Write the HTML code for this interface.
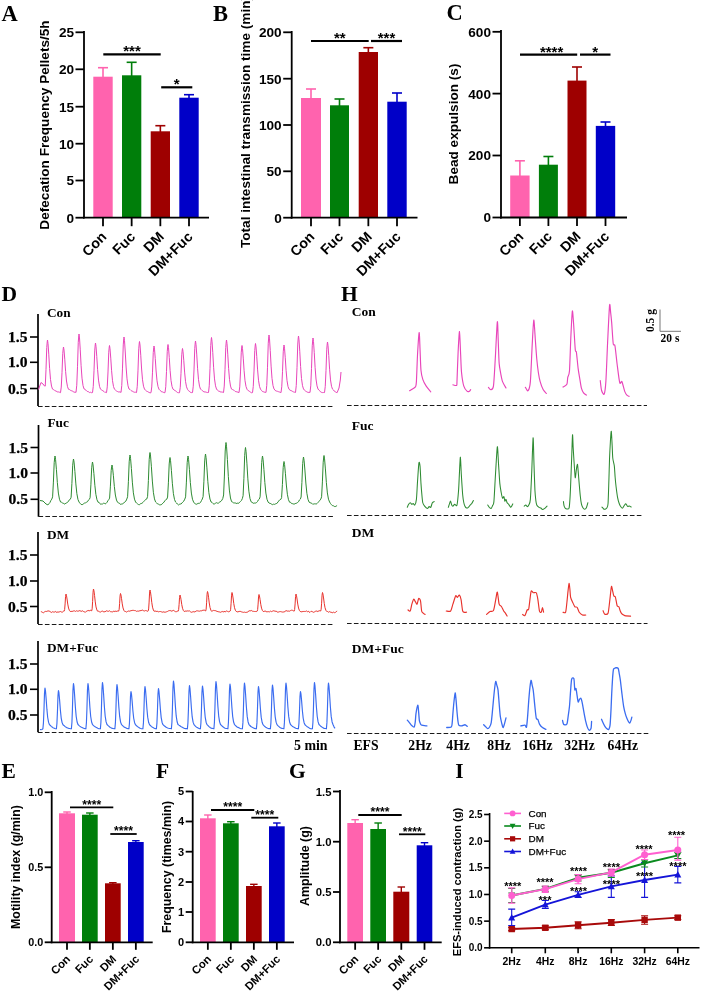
<!DOCTYPE html>
<html><head><meta charset="utf-8"><title>Figure</title>
<style>html,body{margin:0;padding:0;background:#fff}svg{display:block}</style></head>
<body>
<svg width="702" height="991" viewBox="0 0 702 991">
<rect width="702" height="991" fill="#fff"/>
<line x1="103" y1="77.7" x2="103" y2="67.7" stroke="#FF63AE" stroke-width="1.6"/>
<line x1="98" y1="67.7" x2="108" y2="67.7" stroke="#FF63AE" stroke-width="1.6"/>
<rect x="93.3" y="76.7" width="19.4" height="141" fill="#FF63AE"/>
<line x1="131.65" y1="76.3" x2="131.65" y2="62.3" stroke="#007E0A" stroke-width="1.6"/>
<line x1="126.65" y1="62.3" x2="136.65" y2="62.3" stroke="#007E0A" stroke-width="1.6"/>
<rect x="122" y="75.3" width="19.3" height="142.4" fill="#007E0A"/>
<line x1="160.35" y1="132.3" x2="160.35" y2="125.7" stroke="#9E0000" stroke-width="1.6"/>
<line x1="155.35" y1="125.7" x2="165.35" y2="125.7" stroke="#9E0000" stroke-width="1.6"/>
<rect x="150.7" y="131.3" width="19.3" height="86.4" fill="#9E0000"/>
<line x1="189" y1="98.7" x2="189" y2="94.7" stroke="#0000C8" stroke-width="1.6"/>
<line x1="184" y1="94.7" x2="194" y2="94.7" stroke="#0000C8" stroke-width="1.6"/>
<rect x="179.3" y="97.7" width="19.4" height="120" fill="#0000C8"/>
<line x1="84" y1="31" x2="84" y2="218.6" stroke="#000" stroke-width="1.8"/>
<line x1="83.1" y1="217.7" x2="209" y2="217.7" stroke="#000" stroke-width="1.8"/>
<line x1="75.5" y1="32.3" x2="84" y2="32.3" stroke="#000" stroke-width="1.8"/>
<text x="74" y="37.2" font-family='"Liberation Sans", sans-serif' font-weight="bold" font-size="13.6" text-anchor="end">25</text>
<line x1="75.5" y1="69.3" x2="84" y2="69.3" stroke="#000" stroke-width="1.8"/>
<text x="74" y="74.2" font-family='"Liberation Sans", sans-serif' font-weight="bold" font-size="13.6" text-anchor="end">20</text>
<line x1="75.5" y1="106.7" x2="84" y2="106.7" stroke="#000" stroke-width="1.8"/>
<text x="74" y="111.6" font-family='"Liberation Sans", sans-serif' font-weight="bold" font-size="13.6" text-anchor="end">15</text>
<line x1="75.5" y1="143.7" x2="84" y2="143.7" stroke="#000" stroke-width="1.8"/>
<text x="74" y="148.6" font-family='"Liberation Sans", sans-serif' font-weight="bold" font-size="13.6" text-anchor="end">10</text>
<line x1="75.5" y1="180.5" x2="84" y2="180.5" stroke="#000" stroke-width="1.8"/>
<text x="74" y="185.4" font-family='"Liberation Sans", sans-serif' font-weight="bold" font-size="13.6" text-anchor="end">5</text>
<line x1="75.5" y1="217.7" x2="84" y2="217.7" stroke="#000" stroke-width="1.8"/>
<text x="74" y="222.6" font-family='"Liberation Sans", sans-serif' font-weight="bold" font-size="13.6" text-anchor="end">0</text>
<line x1="103" y1="217.7" x2="103" y2="226.2" stroke="#000" stroke-width="1.8"/>
<text transform="translate(107.5,237.7) rotate(-45)" font-family='"Liberation Sans", sans-serif' font-weight="bold" font-size="14.2" text-anchor="end">Con</text>
<line x1="131.65" y1="217.7" x2="131.65" y2="226.2" stroke="#000" stroke-width="1.8"/>
<text transform="translate(136.15,237.7) rotate(-45)" font-family='"Liberation Sans", sans-serif' font-weight="bold" font-size="14.2" text-anchor="end">Fuc</text>
<line x1="160.35" y1="217.7" x2="160.35" y2="226.2" stroke="#000" stroke-width="1.8"/>
<text transform="translate(164.85,237.7) rotate(-45)" font-family='"Liberation Sans", sans-serif' font-weight="bold" font-size="14.2" text-anchor="end">DM</text>
<line x1="189" y1="217.7" x2="189" y2="226.2" stroke="#000" stroke-width="1.8"/>
<text transform="translate(193.5,237.7) rotate(-45)" font-family='"Liberation Sans", sans-serif' font-weight="bold" font-size="14.2" text-anchor="end">DM+Fuc</text>
<line x1="103.3" y1="54.3" x2="160.7" y2="54.3" stroke="#000" stroke-width="2.2"/>
<text x="132" y="56.3" font-family='"Liberation Sans", sans-serif' font-weight="bold" font-size="15" text-anchor="middle">***</text>
<line x1="161.2" y1="87.3" x2="192.3" y2="87.3" stroke="#000" stroke-width="2.2"/>
<text x="176.75" y="89.3" font-family='"Liberation Sans", sans-serif' font-weight="bold" font-size="15" text-anchor="middle">*</text>
<text transform="translate(49.4,125) rotate(-90)" font-family='"Liberation Sans", sans-serif' font-weight="bold" font-size="13.6" text-anchor="middle">Defecation Frequency Pellets/5h</text>
<text x="1.5" y="20.6" font-family='"Liberation Serif", serif' font-weight="bold" font-size="22.5">A</text>
<line x1="311" y1="99" x2="311" y2="89" stroke="#FF63AE" stroke-width="1.6"/>
<line x1="306" y1="89" x2="316" y2="89" stroke="#FF63AE" stroke-width="1.6"/>
<rect x="301" y="98" width="20" height="119.7" fill="#FF63AE"/>
<line x1="339.5" y1="106.3" x2="339.5" y2="99" stroke="#007E0A" stroke-width="1.6"/>
<line x1="334.5" y1="99" x2="344.5" y2="99" stroke="#007E0A" stroke-width="1.6"/>
<rect x="330" y="105.3" width="19" height="112.4" fill="#007E0A"/>
<line x1="368.35" y1="53" x2="368.35" y2="47.7" stroke="#9E0000" stroke-width="1.6"/>
<line x1="363.35" y1="47.7" x2="373.35" y2="47.7" stroke="#9E0000" stroke-width="1.6"/>
<rect x="358.7" y="52" width="19.3" height="165.7" fill="#9E0000"/>
<line x1="397" y1="102.7" x2="397" y2="93" stroke="#0000C8" stroke-width="1.6"/>
<line x1="392" y1="93" x2="402" y2="93" stroke="#0000C8" stroke-width="1.6"/>
<rect x="387.3" y="101.7" width="19.4" height="116" fill="#0000C8"/>
<line x1="291.7" y1="31" x2="291.7" y2="218.6" stroke="#000" stroke-width="1.8"/>
<line x1="290.8" y1="217.7" x2="417.5" y2="217.7" stroke="#000" stroke-width="1.8"/>
<line x1="283.2" y1="32.3" x2="291.7" y2="32.3" stroke="#000" stroke-width="1.8"/>
<text x="281.7" y="37.2" font-family='"Liberation Sans", sans-serif' font-weight="bold" font-size="13.6" text-anchor="end">200</text>
<line x1="283.2" y1="78.7" x2="291.7" y2="78.7" stroke="#000" stroke-width="1.8"/>
<text x="281.7" y="83.6" font-family='"Liberation Sans", sans-serif' font-weight="bold" font-size="13.6" text-anchor="end">150</text>
<line x1="283.2" y1="125" x2="291.7" y2="125" stroke="#000" stroke-width="1.8"/>
<text x="281.7" y="129.9" font-family='"Liberation Sans", sans-serif' font-weight="bold" font-size="13.6" text-anchor="end">100</text>
<line x1="283.2" y1="171.3" x2="291.7" y2="171.3" stroke="#000" stroke-width="1.8"/>
<text x="281.7" y="176.2" font-family='"Liberation Sans", sans-serif' font-weight="bold" font-size="13.6" text-anchor="end">50</text>
<line x1="283.2" y1="217.7" x2="291.7" y2="217.7" stroke="#000" stroke-width="1.8"/>
<text x="281.7" y="222.6" font-family='"Liberation Sans", sans-serif' font-weight="bold" font-size="13.6" text-anchor="end">0</text>
<line x1="311" y1="217.7" x2="311" y2="226.2" stroke="#000" stroke-width="1.8"/>
<text transform="translate(315.5,237.7) rotate(-45)" font-family='"Liberation Sans", sans-serif' font-weight="bold" font-size="14.2" text-anchor="end">Con</text>
<line x1="339.5" y1="217.7" x2="339.5" y2="226.2" stroke="#000" stroke-width="1.8"/>
<text transform="translate(344,237.7) rotate(-45)" font-family='"Liberation Sans", sans-serif' font-weight="bold" font-size="14.2" text-anchor="end">Fuc</text>
<line x1="368.35" y1="217.7" x2="368.35" y2="226.2" stroke="#000" stroke-width="1.8"/>
<text transform="translate(372.85,237.7) rotate(-45)" font-family='"Liberation Sans", sans-serif' font-weight="bold" font-size="14.2" text-anchor="end">DM</text>
<line x1="397" y1="217.7" x2="397" y2="226.2" stroke="#000" stroke-width="1.8"/>
<text transform="translate(401.5,237.7) rotate(-45)" font-family='"Liberation Sans", sans-serif' font-weight="bold" font-size="14.2" text-anchor="end">DM+Fuc</text>
<line x1="311" y1="41" x2="368.7" y2="41" stroke="#000" stroke-width="2.2"/>
<text x="339.85" y="43" font-family='"Liberation Sans", sans-serif' font-weight="bold" font-size="15" text-anchor="middle">**</text>
<line x1="371" y1="41" x2="402" y2="41" stroke="#000" stroke-width="2.2"/>
<text x="386.5" y="43" font-family='"Liberation Sans", sans-serif' font-weight="bold" font-size="15" text-anchor="middle">***</text>
<text transform="translate(250,122) rotate(-90)" font-family='"Liberation Sans", sans-serif' font-weight="bold" font-size="13.6" text-anchor="middle">Total intestinal transmission time (min)</text>
<text x="213" y="20.7" font-family='"Liberation Serif", serif' font-weight="bold" font-size="22.5">B</text>
<line x1="519.9" y1="176.5" x2="519.9" y2="160.8" stroke="#FF63AE" stroke-width="1.6"/>
<line x1="514.9" y1="160.8" x2="524.9" y2="160.8" stroke="#FF63AE" stroke-width="1.6"/>
<rect x="510.2" y="175.5" width="19.4" height="42" fill="#FF63AE"/>
<line x1="548.4" y1="165.7" x2="548.4" y2="156.5" stroke="#007E0A" stroke-width="1.6"/>
<line x1="543.4" y1="156.5" x2="553.4" y2="156.5" stroke="#007E0A" stroke-width="1.6"/>
<rect x="538.9" y="164.7" width="19" height="52.8" fill="#007E0A"/>
<line x1="577" y1="81.6" x2="577" y2="67" stroke="#9E0000" stroke-width="1.6"/>
<line x1="572" y1="67" x2="582" y2="67" stroke="#9E0000" stroke-width="1.6"/>
<rect x="567.5" y="80.6" width="19" height="136.9" fill="#9E0000"/>
<line x1="605.5" y1="126.9" x2="605.5" y2="122" stroke="#0000C8" stroke-width="1.6"/>
<line x1="600.5" y1="122" x2="610.5" y2="122" stroke="#0000C8" stroke-width="1.6"/>
<rect x="595.8" y="125.9" width="19.4" height="91.6" fill="#0000C8"/>
<line x1="501" y1="30" x2="501" y2="218.4" stroke="#000" stroke-width="1.8"/>
<line x1="500.1" y1="217.5" x2="627" y2="217.5" stroke="#000" stroke-width="1.8"/>
<line x1="492.5" y1="31.8" x2="501" y2="31.8" stroke="#000" stroke-width="1.8"/>
<text x="491" y="36.7" font-family='"Liberation Sans", sans-serif' font-weight="bold" font-size="13.6" text-anchor="end">600</text>
<line x1="492.5" y1="93.6" x2="501" y2="93.6" stroke="#000" stroke-width="1.8"/>
<text x="491" y="98.5" font-family='"Liberation Sans", sans-serif' font-weight="bold" font-size="13.6" text-anchor="end">400</text>
<line x1="492.5" y1="155.5" x2="501" y2="155.5" stroke="#000" stroke-width="1.8"/>
<text x="491" y="160.4" font-family='"Liberation Sans", sans-serif' font-weight="bold" font-size="13.6" text-anchor="end">200</text>
<line x1="492.5" y1="217.5" x2="501" y2="217.5" stroke="#000" stroke-width="1.8"/>
<text x="491" y="222.4" font-family='"Liberation Sans", sans-serif' font-weight="bold" font-size="13.6" text-anchor="end">0</text>
<line x1="519.9" y1="217.5" x2="519.9" y2="226" stroke="#000" stroke-width="1.8"/>
<text transform="translate(524.4,237.5) rotate(-45)" font-family='"Liberation Sans", sans-serif' font-weight="bold" font-size="14.2" text-anchor="end">Con</text>
<line x1="548.4" y1="217.5" x2="548.4" y2="226" stroke="#000" stroke-width="1.8"/>
<text transform="translate(552.9,237.5) rotate(-45)" font-family='"Liberation Sans", sans-serif' font-weight="bold" font-size="14.2" text-anchor="end">Fuc</text>
<line x1="577" y1="217.5" x2="577" y2="226" stroke="#000" stroke-width="1.8"/>
<text transform="translate(581.5,237.5) rotate(-45)" font-family='"Liberation Sans", sans-serif' font-weight="bold" font-size="14.2" text-anchor="end">DM</text>
<line x1="605.5" y1="217.5" x2="605.5" y2="226" stroke="#000" stroke-width="1.8"/>
<text transform="translate(610,237.5) rotate(-45)" font-family='"Liberation Sans", sans-serif' font-weight="bold" font-size="14.2" text-anchor="end">DM+Fuc</text>
<line x1="520" y1="54.6" x2="577.2" y2="54.6" stroke="#000" stroke-width="2.2"/>
<text x="551.6" y="56.6" font-family='"Liberation Sans", sans-serif' font-weight="bold" font-size="15" text-anchor="middle">****</text>
<line x1="580" y1="54.6" x2="610.5" y2="54.6" stroke="#000" stroke-width="2.2"/>
<text x="595.25" y="56.6" font-family='"Liberation Sans", sans-serif' font-weight="bold" font-size="15" text-anchor="middle">*</text>
<text transform="translate(458,124) rotate(-90)" font-family='"Liberation Sans", sans-serif' font-weight="bold" font-size="13.6" text-anchor="middle">Bead expulsion (s)</text>
<text x="446.5" y="20.4" font-family='"Liberation Serif", serif' font-weight="bold" font-size="22.5">C</text>
<line x1="67" y1="814.3" x2="67" y2="812" stroke="#FF63AE" stroke-width="1.4"/>
<line x1="63.25" y1="812" x2="70.75" y2="812" stroke="#FF63AE" stroke-width="1.4"/>
<rect x="59" y="813.3" width="16" height="129" fill="#FF63AE"/>
<line x1="89.85" y1="815.7" x2="89.85" y2="813" stroke="#007E0A" stroke-width="1.4"/>
<line x1="86.1" y1="813" x2="93.6" y2="813" stroke="#007E0A" stroke-width="1.4"/>
<rect x="82" y="814.7" width="15.7" height="127.6" fill="#007E0A"/>
<line x1="112.85" y1="884.3" x2="112.85" y2="882.7" stroke="#9E0000" stroke-width="1.4"/>
<line x1="109.1" y1="882.7" x2="116.6" y2="882.7" stroke="#9E0000" stroke-width="1.4"/>
<rect x="105" y="883.3" width="15.7" height="59" fill="#9E0000"/>
<line x1="135.85" y1="843" x2="135.85" y2="840.7" stroke="#0000C8" stroke-width="1.4"/>
<line x1="132.1" y1="840.7" x2="139.6" y2="840.7" stroke="#0000C8" stroke-width="1.4"/>
<rect x="128" y="842" width="15.7" height="100.3" fill="#0000C8"/>
<line x1="51.7" y1="791" x2="51.7" y2="943.2" stroke="#000" stroke-width="1.8"/>
<line x1="50.8" y1="942.3" x2="152.7" y2="942.3" stroke="#000" stroke-width="1.8"/>
<line x1="44.7" y1="792.3" x2="51.7" y2="792.3" stroke="#000" stroke-width="1.8"/>
<text x="43.2" y="796.19" font-family='"Liberation Sans", sans-serif' font-weight="bold" font-size="10.8" text-anchor="end">1.0</text>
<line x1="44.7" y1="867.3" x2="51.7" y2="867.3" stroke="#000" stroke-width="1.8"/>
<text x="43.2" y="871.19" font-family='"Liberation Sans", sans-serif' font-weight="bold" font-size="10.8" text-anchor="end">0.5</text>
<line x1="44.7" y1="942.3" x2="51.7" y2="942.3" stroke="#000" stroke-width="1.8"/>
<text x="43.2" y="946.19" font-family='"Liberation Sans", sans-serif' font-weight="bold" font-size="10.8" text-anchor="end">0.0</text>
<line x1="67" y1="942.3" x2="67" y2="949.8" stroke="#000" stroke-width="1.8"/>
<text transform="translate(71,959.8) rotate(-45)" font-family='"Liberation Sans", sans-serif' font-weight="bold" font-size="11.3" text-anchor="end">Con</text>
<line x1="89.85" y1="942.3" x2="89.85" y2="949.8" stroke="#000" stroke-width="1.8"/>
<text transform="translate(93.85,959.8) rotate(-45)" font-family='"Liberation Sans", sans-serif' font-weight="bold" font-size="11.3" text-anchor="end">Fuc</text>
<line x1="112.85" y1="942.3" x2="112.85" y2="949.8" stroke="#000" stroke-width="1.8"/>
<text transform="translate(116.85,959.8) rotate(-45)" font-family='"Liberation Sans", sans-serif' font-weight="bold" font-size="11.3" text-anchor="end">DM</text>
<line x1="135.85" y1="942.3" x2="135.85" y2="949.8" stroke="#000" stroke-width="1.8"/>
<text transform="translate(139.85,959.8) rotate(-45)" font-family='"Liberation Sans", sans-serif' font-weight="bold" font-size="11.3" text-anchor="end">DM+Fuc</text>
<line x1="70" y1="807.3" x2="113.3" y2="807.3" stroke="#000" stroke-width="1.8"/>
<text x="91.65" y="808.6" font-family='"Liberation Sans", sans-serif' font-weight="bold" font-size="12.2" text-anchor="middle">****</text>
<line x1="110.3" y1="834" x2="136.7" y2="834" stroke="#000" stroke-width="1.8"/>
<text x="123.5" y="835.3" font-family='"Liberation Sans", sans-serif' font-weight="bold" font-size="12.2" text-anchor="middle">****</text>
<text transform="translate(20,867) rotate(-90)" font-family='"Liberation Sans", sans-serif' font-weight="bold" font-size="12.4" text-anchor="middle">Motility index (g/min)</text>
<text x="1.5" y="778" font-family='"Liberation Serif", serif' font-weight="bold" font-size="21.5">E</text>
<line x1="207.85" y1="819.3" x2="207.85" y2="815" stroke="#FF63AE" stroke-width="1.4"/>
<line x1="204.1" y1="815" x2="211.6" y2="815" stroke="#FF63AE" stroke-width="1.4"/>
<rect x="200" y="818.3" width="15.7" height="124" fill="#FF63AE"/>
<line x1="230.85" y1="824.3" x2="230.85" y2="821.7" stroke="#007E0A" stroke-width="1.4"/>
<line x1="227.1" y1="821.7" x2="234.6" y2="821.7" stroke="#007E0A" stroke-width="1.4"/>
<rect x="223" y="823.3" width="15.7" height="119" fill="#007E0A"/>
<line x1="253.85" y1="887" x2="253.85" y2="884.3" stroke="#9E0000" stroke-width="1.4"/>
<line x1="250.1" y1="884.3" x2="257.6" y2="884.3" stroke="#9E0000" stroke-width="1.4"/>
<rect x="246" y="886" width="15.7" height="56.3" fill="#9E0000"/>
<line x1="276.85" y1="827.3" x2="276.85" y2="823" stroke="#0000C8" stroke-width="1.4"/>
<line x1="273.1" y1="823" x2="280.6" y2="823" stroke="#0000C8" stroke-width="1.4"/>
<rect x="269" y="826.3" width="15.7" height="116" fill="#0000C8"/>
<line x1="192.7" y1="791" x2="192.7" y2="943.2" stroke="#000" stroke-width="1.8"/>
<line x1="191.8" y1="942.3" x2="294" y2="942.3" stroke="#000" stroke-width="1.8"/>
<line x1="185.7" y1="791.5" x2="192.7" y2="791.5" stroke="#000" stroke-width="1.8"/>
<text x="184.2" y="795.46" font-family='"Liberation Sans", sans-serif' font-weight="bold" font-size="11" text-anchor="end">5</text>
<line x1="185.7" y1="821.5" x2="192.7" y2="821.5" stroke="#000" stroke-width="1.8"/>
<text x="184.2" y="825.46" font-family='"Liberation Sans", sans-serif' font-weight="bold" font-size="11" text-anchor="end">4</text>
<line x1="185.7" y1="851.7" x2="192.7" y2="851.7" stroke="#000" stroke-width="1.8"/>
<text x="184.2" y="855.66" font-family='"Liberation Sans", sans-serif' font-weight="bold" font-size="11" text-anchor="end">3</text>
<line x1="185.7" y1="882" x2="192.7" y2="882" stroke="#000" stroke-width="1.8"/>
<text x="184.2" y="885.96" font-family='"Liberation Sans", sans-serif' font-weight="bold" font-size="11" text-anchor="end">2</text>
<line x1="185.7" y1="912" x2="192.7" y2="912" stroke="#000" stroke-width="1.8"/>
<text x="184.2" y="915.96" font-family='"Liberation Sans", sans-serif' font-weight="bold" font-size="11" text-anchor="end">1</text>
<line x1="185.7" y1="942.3" x2="192.7" y2="942.3" stroke="#000" stroke-width="1.8"/>
<text x="184.2" y="946.26" font-family='"Liberation Sans", sans-serif' font-weight="bold" font-size="11" text-anchor="end">0</text>
<line x1="207.85" y1="942.3" x2="207.85" y2="949.8" stroke="#000" stroke-width="1.8"/>
<text transform="translate(211.85,959.8) rotate(-45)" font-family='"Liberation Sans", sans-serif' font-weight="bold" font-size="11.3" text-anchor="end">Con</text>
<line x1="230.85" y1="942.3" x2="230.85" y2="949.8" stroke="#000" stroke-width="1.8"/>
<text transform="translate(234.85,959.8) rotate(-45)" font-family='"Liberation Sans", sans-serif' font-weight="bold" font-size="11.3" text-anchor="end">Fuc</text>
<line x1="253.85" y1="942.3" x2="253.85" y2="949.8" stroke="#000" stroke-width="1.8"/>
<text transform="translate(257.85,959.8) rotate(-45)" font-family='"Liberation Sans", sans-serif' font-weight="bold" font-size="11.3" text-anchor="end">DM</text>
<line x1="276.85" y1="942.3" x2="276.85" y2="949.8" stroke="#000" stroke-width="1.8"/>
<text transform="translate(280.85,959.8) rotate(-45)" font-family='"Liberation Sans", sans-serif' font-weight="bold" font-size="11.3" text-anchor="end">DM+Fuc</text>
<line x1="211" y1="810" x2="254.3" y2="810" stroke="#000" stroke-width="1.8"/>
<text x="232.65" y="811.3" font-family='"Liberation Sans", sans-serif' font-weight="bold" font-size="12.2" text-anchor="middle">****</text>
<line x1="251.3" y1="817.7" x2="278.3" y2="817.7" stroke="#000" stroke-width="1.8"/>
<text x="264.8" y="819" font-family='"Liberation Sans", sans-serif' font-weight="bold" font-size="12.2" text-anchor="middle">****</text>
<text transform="translate(171,867) rotate(-90)" font-family='"Liberation Sans", sans-serif' font-weight="bold" font-size="12.4" text-anchor="middle">Frequency (times/min)</text>
<text x="156" y="778" font-family='"Liberation Serif", serif' font-weight="bold" font-size="21.5">F</text>
<line x1="355.15" y1="824" x2="355.15" y2="819.7" stroke="#FF63AE" stroke-width="1.4"/>
<line x1="351.4" y1="819.7" x2="358.9" y2="819.7" stroke="#FF63AE" stroke-width="1.4"/>
<rect x="347.3" y="823" width="15.7" height="119.3" fill="#FF63AE"/>
<line x1="378.15" y1="830" x2="378.15" y2="823" stroke="#007E0A" stroke-width="1.4"/>
<line x1="374.4" y1="823" x2="381.9" y2="823" stroke="#007E0A" stroke-width="1.4"/>
<rect x="370.3" y="829" width="15.7" height="113.3" fill="#007E0A"/>
<line x1="401.3" y1="892.7" x2="401.3" y2="887" stroke="#9E0000" stroke-width="1.4"/>
<line x1="397.55" y1="887" x2="405.05" y2="887" stroke="#9E0000" stroke-width="1.4"/>
<rect x="393.3" y="891.7" width="16" height="50.6" fill="#9E0000"/>
<line x1="424.5" y1="846.3" x2="424.5" y2="842.7" stroke="#0000C8" stroke-width="1.4"/>
<line x1="420.75" y1="842.7" x2="428.25" y2="842.7" stroke="#0000C8" stroke-width="1.4"/>
<rect x="416.7" y="845.3" width="15.6" height="97" fill="#0000C8"/>
<line x1="340" y1="790" x2="340" y2="943.2" stroke="#000" stroke-width="1.8"/>
<line x1="339.1" y1="942.3" x2="441.7" y2="942.3" stroke="#000" stroke-width="1.8"/>
<line x1="333" y1="791.5" x2="340" y2="791.5" stroke="#000" stroke-width="1.8"/>
<text x="331.5" y="795.57" font-family='"Liberation Sans", sans-serif' font-weight="bold" font-size="11.3" text-anchor="end">1.5</text>
<line x1="333" y1="841.7" x2="340" y2="841.7" stroke="#000" stroke-width="1.8"/>
<text x="331.5" y="845.77" font-family='"Liberation Sans", sans-serif' font-weight="bold" font-size="11.3" text-anchor="end">1.0</text>
<line x1="333" y1="892" x2="340" y2="892" stroke="#000" stroke-width="1.8"/>
<text x="331.5" y="896.07" font-family='"Liberation Sans", sans-serif' font-weight="bold" font-size="11.3" text-anchor="end">0.5</text>
<line x1="333" y1="942.3" x2="340" y2="942.3" stroke="#000" stroke-width="1.8"/>
<text x="331.5" y="946.37" font-family='"Liberation Sans", sans-serif' font-weight="bold" font-size="11.3" text-anchor="end">0.0</text>
<line x1="355.15" y1="942.3" x2="355.15" y2="949.8" stroke="#000" stroke-width="1.8"/>
<text transform="translate(359.15,959.8) rotate(-45)" font-family='"Liberation Sans", sans-serif' font-weight="bold" font-size="11.3" text-anchor="end">Con</text>
<line x1="378.15" y1="942.3" x2="378.15" y2="949.8" stroke="#000" stroke-width="1.8"/>
<text transform="translate(382.15,959.8) rotate(-45)" font-family='"Liberation Sans", sans-serif' font-weight="bold" font-size="11.3" text-anchor="end">Fuc</text>
<line x1="401.3" y1="942.3" x2="401.3" y2="949.8" stroke="#000" stroke-width="1.8"/>
<text transform="translate(405.3,959.8) rotate(-45)" font-family='"Liberation Sans", sans-serif' font-weight="bold" font-size="11.3" text-anchor="end">DM</text>
<line x1="424.5" y1="942.3" x2="424.5" y2="949.8" stroke="#000" stroke-width="1.8"/>
<text transform="translate(428.5,959.8) rotate(-45)" font-family='"Liberation Sans", sans-serif' font-weight="bold" font-size="11.3" text-anchor="end">DM+Fuc</text>
<line x1="358.3" y1="815" x2="401.7" y2="815" stroke="#000" stroke-width="1.8"/>
<text x="380" y="816.4" font-family='"Liberation Sans", sans-serif' font-weight="bold" font-size="12.2" text-anchor="middle">****</text>
<line x1="399" y1="834.3" x2="425.3" y2="834.3" stroke="#000" stroke-width="1.8"/>
<text x="412.15" y="835.7" font-family='"Liberation Sans", sans-serif' font-weight="bold" font-size="12.2" text-anchor="middle">****</text>
<text transform="translate(309,866) rotate(-90)" font-family='"Liberation Sans", sans-serif' font-weight="bold" font-size="12.4" text-anchor="middle">Amplitude (g)</text>
<text x="289" y="778" font-family='"Liberation Serif", serif' font-weight="bold" font-size="21.5">G</text>
<line x1="38" y1="314" x2="38" y2="406" stroke="#000" stroke-width="1.7"/>
<line x1="30" y1="337" x2="38" y2="337" stroke="#000" stroke-width="1.6"/>
<text x="27.5" y="342" font-family='"Liberation Serif", serif' font-weight="bold" font-size="15.6" stroke="#000" stroke-width="0.25" text-anchor="end">1.5</text>
<line x1="30" y1="362.3" x2="38" y2="362.3" stroke="#000" stroke-width="1.6"/>
<text x="27.5" y="367.3" font-family='"Liberation Serif", serif' font-weight="bold" font-size="15.6" stroke="#000" stroke-width="0.25" text-anchor="end">1.0</text>
<line x1="30" y1="388.5" x2="38" y2="388.5" stroke="#000" stroke-width="1.6"/>
<text x="27.5" y="393.5" font-family='"Liberation Serif", serif' font-weight="bold" font-size="15.6" stroke="#000" stroke-width="0.25" text-anchor="end">0.5</text>
<line x1="38" y1="406.5" x2="334.5" y2="406.5" stroke="#1a1a1a" stroke-width="1.2" stroke-dasharray="4.6,2.3"/>
<text x="47" y="317.3" font-family='"Liberation Serif", serif' font-weight="bold" font-size="13.3">Con</text>
<path d="M38.5,389.5 L41,382.5 L43,384 L44.5,386 L44.5,386 L45.25,386.1 L46,369.48 L46.75,347.5 L47.26,341.61 L47.5,340 L48,343.54 L48.75,354.17 L49.6,368.34 L50.5,379.47 L51.5,386.05 L52.5,389.08 L53.39,389.55 L54.28,389.94 L55.17,390.84 L56.06,391.06 L56.94,391.65 L57.83,392.03 L58.72,391.94 L59.61,392.26 L60.5,392.67 L61.25,387.08 L62,372.63 L62.75,353.52 L63.26,348.4 L63.5,347 L64,350.05 L64.75,359.21 L65.6,371.42 L66.5,381.01 L67.5,386.68 L68.5,389.29 L69.44,389.54 L70.38,390.28 L71.31,390.68 L72.25,390.99 L73.19,391.58 L74.12,392.29 L75.06,392.03 L76,392.41 L76.75,385.26 L77.5,366.78 L78.25,342.34 L78.76,335.79 L79,334 L79.5,337.96 L80.25,349.85 L81.1,365.7 L82,378.15 L83,385.51 L84,388.9 L84.94,389.3 L85.89,390.13 L86.83,391.15 L87.78,391.62 L88.72,391.83 L89.67,392.61 L90.61,392.25 L91.56,392.71 L92.5,392.59 L93.25,386.52 L94,370.83 L94.75,350.08 L95.26,344.52 L95.5,343 L96,346.33 L96.75,356.33 L97.6,369.66 L98.5,380.13 L99.5,386.32 L100.5,389.17 L101.36,389.78 L102.21,390.33 L103.07,390.89 L103.93,391.45 L104.79,392.38 L105.64,392.24 L106.5,392.64 L107.25,386.87 L108,371.96 L108.75,352.23 L109.26,346.94 L109.5,345.5 L110,348.66 L110.75,358.13 L111.6,370.76 L112.5,380.68 L113.5,386.54 L114.5,389.25 L115.43,390.06 L116.36,390.9 L117.29,391.41 L118.21,391.92 L119.14,391.96 L120.07,391.81 L121,392.47 L121.75,385.68 L122.5,368.13 L123.25,344.92 L123.76,338.7 L124,337 L124.5,340.75 L125.25,352.01 L126.1,367.02 L127,378.81 L128,385.78 L129,388.99 L129.94,389.44 L130.88,390.39 L131.81,391.02 L132.75,391.38 L133.69,391.98 L134.62,392.27 L135.56,392.24 L136.5,392.56 L137.25,386.31 L138,370.16 L138.75,348.79 L139.26,343.06 L139.5,341.5 L140,344.94 L140.75,355.25 L141.6,369 L142.5,379.8 L143.5,386.18 L144.5,389.13 L145.43,390.16 L146.36,391.02 L147.29,391.41 L148.21,391.99 L149.14,392.45 L150.07,392.87 L151,392.65 L151.75,386.94 L152.5,372.18 L153.25,352.66 L153.76,347.43 L154,346 L154.5,349.12 L155.25,358.49 L156.1,370.98 L157,380.79 L158,386.59 L159,389.26 L159.86,390.22 L160.71,390.73 L161.57,391.87 L162.43,391.88 L163.29,392.29 L164.14,392.66 L165,392.62 L165.75,386.73 L166.5,371.5 L167.25,351.37 L167.76,345.97 L168,344.5 L168.5,347.73 L169.25,357.41 L170.1,370.32 L171,380.46 L172,386.45 L173,389.22 L173.93,389.71 L174.86,390.6 L175.79,391.01 L176.71,391.85 L177.64,392.59 L178.57,392.72 L179.5,392.7 L180.25,387.29 L181,373.31 L181.75,354.81 L182.26,349.85 L182.5,348.5 L183,351.45 L183.75,360.29 L184.6,372.08 L185.5,381.34 L186.5,386.81 L187.5,389.34 L188.33,390.52 L189.17,391.11 L190,391.93 L190.83,392.47 L191.67,392.64 L192.5,392.55 L193.25,386.24 L194,369.93 L194.75,348.36 L195.26,342.58 L195.5,341 L196,344.47 L196.75,354.89 L197.6,368.78 L198.5,379.69 L199.5,386.14 L200.5,389.11 L201.39,389.67 L202.28,390.57 L203.17,391.43 L204.06,391.71 L204.94,392.1 L205.83,391.98 L206.72,392.38 L207.61,392.56 L208.5,392.48 L209.25,385.75 L210,368.36 L210.75,345.35 L211.26,339.18 L211.5,337.5 L212,341.22 L212.75,352.37 L213.6,367.24 L214.5,378.92 L215.5,385.82 L216.5,389.01 L217.38,390.11 L218.25,390.91 L219.12,391.21 L220,391.55 L220.88,392.14 L221.75,391.99 L222.62,392.2 L223.5,392.53 L224.25,386.1 L225,369.48 L225.75,347.5 L226.26,341.61 L226.5,340 L227,343.54 L227.75,354.17 L228.6,368.34 L229.5,379.47 L230.5,386.05 L231.5,389.08 L232.44,389.5 L233.38,389.98 L234.31,390.5 L235.25,391.49 L236.19,391.69 L237.12,391.95 L238.06,392.16 L239,392.64 L239.75,386.87 L240.5,371.96 L241.25,352.23 L241.76,346.94 L242,345.5 L242.5,348.66 L243.25,358.13 L244.1,370.76 L245,380.68 L246,386.54 L247,389.25 L247.92,390.45 L248.83,390.87 L249.75,391.58 L250.67,392.24 L251.58,392.78 L252.5,392.6 L253.25,386.59 L254,371.06 L254.75,350.51 L255.26,345 L255.5,343.5 L256,346.8 L256.75,356.69 L257.6,369.88 L258.5,380.24 L259.5,386.36 L260.5,389.19 L261.42,390.33 L262.33,391.4 L263.25,391.7 L264.17,392.13 L265.08,392.2 L266,392.43 L266.75,385.4 L267.5,367.23 L268.25,343.2 L268.76,336.76 L269,335 L269.5,338.89 L270.25,350.57 L271.1,366.14 L272,378.37 L273,385.6 L274,388.93 L274.88,389.97 L275.75,390.93 L276.62,391.12 L277.5,391.34 L278.38,391.67 L279.25,391.93 L280.12,392.22 L281,392.63 L281.75,386.8 L282.5,371.73 L283.25,351.8 L283.76,346.46 L284,345 L284.5,348.19 L285.25,357.77 L286.1,370.54 L287,380.57 L288,386.5 L289,389.23 L289.93,390.05 L290.86,390.57 L291.79,390.9 L292.71,391.5 L293.64,391.96 L294.57,392.22 L295.5,392.45 L296.25,385.54 L297,367.68 L297.75,344.06 L298.26,337.73 L298.5,336 L299,339.82 L299.75,351.29 L300.6,366.58 L301.5,378.59 L302.5,385.69 L303.5,388.96 L304.43,390.13 L305.36,390.93 L306.29,391.52 L307.21,392.02 L308.14,392.54 L309.07,392.17 L310,392.49 L310.75,385.82 L311.5,368.58 L312.25,345.78 L312.76,339.67 L313,338 L313.5,341.68 L314.25,352.73 L315.1,367.46 L316,379.03 L317,385.87 L318,389.02 L318.93,390.15 L319.86,391.04 L320.79,391.92 L321.71,392.44 L322.64,392.58 L323.57,392.52 L324.5,392.57 L325.25,386.38 L326,370.38 L326.75,349.22 L327.26,343.55 L327.5,342 L328,345.4 L328.75,355.61 L329.6,369.22 L330.5,379.91 L331.5,386.23 L332.5,389.14 L333.42,389.89 L334.33,391.21 L335.25,391.75 L336.17,392.3 L337.08,392.69 L339,388 L340.3,380 L341,372" fill="none" stroke="#E845BA" stroke-width="1.0" stroke-linejoin="round"/>
<line x1="38.5" y1="425" x2="38.5" y2="516.7" stroke="#000" stroke-width="1.7"/>
<line x1="30.5" y1="447.5" x2="38.5" y2="447.5" stroke="#000" stroke-width="1.6"/>
<text x="28" y="452.5" font-family='"Liberation Serif", serif' font-weight="bold" font-size="15.6" stroke="#000" stroke-width="0.25" text-anchor="end">1.5</text>
<line x1="30.5" y1="473" x2="38.5" y2="473" stroke="#000" stroke-width="1.6"/>
<text x="28" y="478" font-family='"Liberation Serif", serif' font-weight="bold" font-size="15.6" stroke="#000" stroke-width="0.25" text-anchor="end">1.0</text>
<line x1="30.5" y1="499.3" x2="38.5" y2="499.3" stroke="#000" stroke-width="1.6"/>
<text x="28" y="504.3" font-family='"Liberation Serif", serif' font-weight="bold" font-size="15.6" stroke="#000" stroke-width="0.25" text-anchor="end">0.5</text>
<line x1="38.5" y1="516.5" x2="334.5" y2="516.5" stroke="#1a1a1a" stroke-width="1.2" stroke-dasharray="4.6,2.3"/>
<text x="47.5" y="427" font-family='"Liberation Serif", serif' font-weight="bold" font-size="13.3">Fuc</text>
<path d="M40,500.5 L43,501 L46,504 L46.97,504.45 L47.93,504.94 L48.9,503.76 L49.87,502.67 L50.83,500.54 L51.8,499.12 L52.6,496.85 L53.4,482.12 L54.2,462.65 L54.74,457.43 L55,456 L55.56,459.32 L56.4,469.3 L57.35,482.6 L58.36,493.05 L59.48,499.23 L60.6,502.07 L61.48,502.25 L62.36,502.93 L63.25,503.2 L64.13,504 L65.01,503.91 L65.89,503.19 L66.77,502.78 L67.65,502.28 L68.54,501.14 L69.42,499.71 L70.3,499.27 L71.1,497.27 L71.9,483.48 L72.7,465.23 L73.24,460.33 L73.5,459 L74.06,462.12 L74.9,471.46 L75.85,483.92 L76.86,493.71 L77.98,499.5 L79.1,502.17 L80.03,503.24 L80.95,504.33 L81.88,504.61 L82.81,504.43 L83.74,503.58 L84.66,502.99 L85.59,502.82 L86.52,502.26 L87.45,501.75 L88.37,500.18 L89.3,499.43 L90.1,497.69 L90.9,484.82 L91.7,467.81 L92.24,463.25 L92.5,462 L93.06,464.9 L93.9,473.62 L94.85,485.24 L95.86,494.37 L96.98,499.76 L98.1,502.25 L98.99,502.29 L99.88,503.67 L100.77,504.24 L101.67,504.03 L102.56,503.99 L103.45,503.26 L104.34,503.33 L105.23,503.83 L106.12,503.4 L107.02,502.31 L107.91,500.72 L108.8,499.57 L109.6,498.11 L110.4,486.18 L111.2,470.39 L111.74,466.15 L112,465 L112.56,467.69 L113.4,475.78 L114.35,486.56 L115.36,495.03 L116.48,500.04 L117.6,502.35 L118.52,502.86 L119.44,503.2 L120.36,504.39 L121.28,504.09 L122.2,504.08 L123.12,503.4 L124.04,502.73 L124.96,501.91 L125.88,501.09 L126.8,499.07 L127.6,496.71 L128.4,481.68 L129.2,461.79 L129.74,456.45 L130,455 L130.56,458.39 L131.4,468.58 L132.35,482.16 L133.36,492.83 L134.48,499.13 L135.6,502.05 L136.53,503.04 L137.47,503.82 L138.4,504.53 L139.33,504.75 L140.27,503.87 L141.2,503.59 L142.13,503.12 L143.07,502.35 L144,501.28 L144.93,500.3 L145.87,499.25 L146.8,498.95 L147.6,496.36 L148.4,480.55 L149.2,459.64 L149.74,454.03 L150,452.5 L150.56,456.07 L151.4,466.78 L152.35,481.06 L153.36,492.28 L154.48,498.91 L155.6,501.97 L156.53,502.8 L157.47,503.86 L158.4,504.13 L159.33,504.78 L160.27,504.84 L161.2,504.75 L162.13,503.89 L163.07,503.11 L164,502.06 L164.93,500.76 L165.87,499.57 L166.8,499.2 L167.6,497.06 L168.4,482.8 L169.2,463.94 L169.74,458.88 L170,457.5 L170.56,460.72 L171.4,470.38 L172.35,483.26 L173.36,493.38 L174.48,499.36 L175.6,502.12 L176.52,502.97 L177.44,504.09 L178.36,504.97 L179.28,504.35 L180.2,504.06 L181.12,503.95 L182.04,502.9 L182.96,501.84 L183.88,500.99 L184.8,499.12 L185.6,496.85 L186.4,482.12 L187.2,462.65 L187.74,457.43 L188,456 L188.56,459.32 L189.4,469.3 L190.35,482.6 L191.36,493.05 L192.48,499.23 L193.6,502.07 L194.47,503.11 L195.34,503.97 L196.21,504.44 L197.08,503.63 L197.95,503.76 L198.82,503.17 L199.69,503.26 L200.56,502.39 L201.43,500.66 L202.3,499.02 L203.1,496.57 L203.9,481.23 L204.7,460.93 L205.24,455.49 L205.5,454 L206.06,457.46 L206.9,467.86 L207.85,481.72 L208.86,492.61 L209.98,499.05 L211.1,502.01 L212,502.39 L212.9,503.47 L213.8,504.05 L214.7,503.85 L215.6,503.16 L216.5,502.66 L217.4,503.15 L218.3,503.22 L219.2,502.36 L220.1,501.86 L221,501.28 L221.9,500.13 L222.8,498.45 L223.6,494.96 L224.4,476.05 L225.2,451.04 L225.74,444.33 L226,442.5 L226.56,446.77 L227.4,459.58 L228.35,476.66 L229.36,490.08 L230.48,498.01 L231.6,501.67 L232.49,502.08 L233.38,502.79 L234.28,502.96 L235.17,502.81 L236.06,503.48 L236.95,503.39 L237.84,503.09 L238.73,503.3 L239.62,502.23 L240.52,501.48 L241.41,500.54 L242.3,498.7 L243.1,495.66 L243.9,478.3 L244.7,455.34 L245.24,449.18 L245.5,447.5 L246.06,451.42 L246.9,463.18 L247.85,478.86 L248.86,491.18 L249.98,498.46 L251.1,501.82 L252.01,502.28 L252.92,502.94 L253.83,503.37 L254.74,502.98 L255.66,503.04 L256.57,502.57 L257.48,501.57 L258.39,499.87 L259.3,499.12 L260.1,496.85 L260.9,482.12 L261.7,462.65 L262.24,457.43 L262.5,456 L263.06,459.32 L263.9,469.3 L264.85,482.6 L265.86,493.05 L266.98,499.23 L268.1,502.07 L269.01,503.09 L269.91,503.24 L270.82,503.67 L271.73,504.28 L272.64,504.67 L273.54,504.17 L274.45,504.38 L275.36,503.93 L276.26,503.63 L277.17,503.21 L278.08,501.65 L278.99,500.86 L279.89,499.72 L280.8,499.4 L281.6,497.62 L282.4,484.6 L283.2,467.38 L283.74,462.76 L284,461.5 L284.56,464.44 L285.4,473.26 L286.35,485.02 L287.36,494.26 L288.48,499.72 L289.6,502.24 L290.49,502.22 L291.38,503.4 L292.28,503.58 L293.17,503.95 L294.06,504.07 L294.95,503.84 L295.84,503.32 L296.73,503.14 L297.62,502.47 L298.52,501.71 L299.41,500.01 L300.3,499.18 L301.1,496.99 L301.9,482.57 L302.7,463.51 L303.24,458.39 L303.5,457 L304.06,460.25 L304.9,470.02 L305.85,483.04 L306.86,493.27 L307.98,499.31 L309.1,502.11 L310,502.72 L310.9,502.92 L311.8,503.3 L312.7,504.25 L313.6,504 L314.5,503.82 L315.4,503.86 L316.3,503.98 L317.2,503.39 L318.1,502.45 L319,501.32 L319.9,500.25 L320.8,499.1 L321.6,496.78 L322.4,481.9 L323.2,462.22 L323.74,456.94 L324,455.5 L324.56,458.86 L325.4,468.94 L326.35,482.38 L327.36,492.94 L328.48,499.18 L329.6,502.06 L330.53,503.56 L331.47,504.68 L332.4,505.63 L333.33,505.73 L334.27,506.41 L335.2,506.59 L336.13,506.19 L337.07,505.46" fill="none" stroke="#2E8B32" stroke-width="1.0" stroke-linejoin="round"/>
<line x1="38" y1="532" x2="38" y2="624" stroke="#000" stroke-width="1.7"/>
<line x1="30" y1="555" x2="38" y2="555" stroke="#000" stroke-width="1.6"/>
<text x="27.5" y="560" font-family='"Liberation Serif", serif' font-weight="bold" font-size="15.6" stroke="#000" stroke-width="0.25" text-anchor="end">1.5</text>
<line x1="30" y1="581" x2="38" y2="581" stroke="#000" stroke-width="1.6"/>
<text x="27.5" y="586" font-family='"Liberation Serif", serif' font-weight="bold" font-size="15.6" stroke="#000" stroke-width="0.25" text-anchor="end">1.0</text>
<line x1="30" y1="606.5" x2="38" y2="606.5" stroke="#000" stroke-width="1.6"/>
<text x="27.5" y="611.5" font-family='"Liberation Serif", serif' font-weight="bold" font-size="15.6" stroke="#000" stroke-width="0.25" text-anchor="end">0.5</text>
<line x1="38" y1="624.5" x2="334.5" y2="624.5" stroke="#1a1a1a" stroke-width="1.2" stroke-dasharray="4.6,2.3"/>
<text x="47" y="538.5" font-family='"Liberation Serif", serif' font-weight="bold" font-size="13.3">DM</text>
<path d="M40.9,611.67 L41.79,611.87 L42.69,612.48 L43.59,612.72 L44.48,611.92 L45.38,611.42 L46.27,611.54 L47.17,611.12 L48.07,611.08 L48.96,610.83 L49.86,611.47 L50.76,612 L51.65,612.46 L52.55,611.74 L53.44,612.03 L54.34,612.12 L55.24,611.47 L56.13,612.05 L57.03,612.49 L57.93,611.72 L58.82,612.19 L59.72,611.72 L60.61,611.53 L61.51,612.04 L62.41,612.12 L63.3,611.25 L64.2,611.1 L64.65,609.48 L65.1,603.9 L65.55,596.52 L65.86,594.54 L66,594 L66.42,595.26 L67.05,599.04 L67.76,604.08 L68.52,608.04 L69.36,610.38 L70.2,611.46 L71.1,611.37 L71.99,611.43 L72.89,611.23 L73.78,610.92 L74.68,610.89 L75.58,611.41 L76.47,610.8 L77.37,611.13 L78.26,611.18 L79.16,610.66 L80.05,610.75 L80.95,611.2 L81.85,611.29 L82.74,610.75 L83.64,611.62 L84.53,611.88 L85.43,612.26 L86.33,611.29 L87.22,610.9 L88.12,610.34 L89.01,610.95 L89.91,610.62 L90.8,610.21 L91.7,610.85 L92.15,608.78 L92.6,601.65 L93.05,592.22 L93.36,589.69 L93.5,589 L93.92,590.61 L94.55,595.44 L95.26,601.88 L96.02,606.94 L96.86,609.93 L97.7,611.31 L98.61,611.22 L99.53,611.82 L100.44,612.07 L101.35,611.48 L102.27,610.99 L103.18,611.72 L104.09,611.7 L105,611.87 L105.92,611.17 L106.83,610.72 L107.74,611.28 L108.66,611.27 L109.57,610.78 L110.48,611.63 L111.4,611.73 L112.31,612.01 L113.22,611.19 L114.13,611.69 L115.05,610.92 L115.96,611.5 L116.87,611.28 L117.79,610.97 L118.7,611.08 L119.15,609.41 L119.6,603.67 L120.05,596.09 L120.36,594.05 L120.5,593.5 L120.92,594.79 L121.55,598.68 L122.26,603.86 L123.02,607.93 L123.86,610.34 L124.7,611.45 L125.6,611.52 L126.51,612.05 L127.41,611.51 L128.32,611 L129.22,611.22 L130.12,610.97 L131.03,610.65 L131.93,610.53 L132.83,610.31 L133.74,610.38 L134.64,610.57 L135.55,610.67 L136.45,611.34 L137.35,611.09 L138.26,611.22 L139.16,610.86 L140.07,610.85 L140.97,610.41 L141.87,610.41 L142.78,610.07 L143.68,610.8 L144.58,610.96 L145.49,610.56 L146.39,610.68 L147.3,611.33 L148.2,610.9 L148.65,608.92 L149.1,602.1 L149.55,593.08 L149.86,590.66 L150,590 L150.42,591.54 L151.05,596.16 L151.76,602.32 L152.52,607.16 L153.36,610.02 L154.2,611.34 L155.09,610.84 L155.98,611.48 L156.87,611.36 L157.76,611.38 L158.64,611.85 L159.53,611.55 L160.42,611.52 L161.31,611.76 L162.2,612.29 L163.09,611.77 L163.98,612.11 L164.87,612.16 L165.76,612.1 L166.64,611.75 L167.53,611.46 L168.42,610.89 L169.31,610.65 L170.2,610.43 L171.09,611.17 L171.98,610.94 L172.87,610.66 L173.76,610.37 L174.64,611.17 L175.53,611.68 L176.42,611.7 L177.31,611.18 L178.2,611.15 L178.65,609.62 L179.1,604.35 L179.55,597.38 L179.86,595.51 L180,595 L180.42,596.19 L181.05,599.76 L181.76,604.52 L182.52,608.26 L183.36,610.47 L184.2,611.49 L185.1,611.15 L185.99,611.02 L186.89,611.16 L187.78,610.85 L188.68,611.04 L189.57,610.92 L190.47,611.77 L191.37,612.29 L192.26,612.05 L193.16,611.5 L194.05,612.13 L194.95,611.64 L195.85,611.39 L196.74,610.76 L197.64,610.87 L198.53,611.06 L199.43,611.19 L200.32,610.82 L201.22,610.98 L202.12,610.39 L203.01,610.35 L203.91,610.07 L204.8,610.29 L205.7,610.98 L206.15,609.13 L206.6,602.77 L207.05,594.37 L207.36,592.12 L207.5,591.5 L207.92,592.93 L208.55,597.24 L209.26,602.98 L210.02,607.49 L210.86,610.15 L211.7,611.38 L212.58,610.79 L213.46,610.41 L214.34,610.56 L215.22,610.57 L216.1,611.04 L216.99,611.25 L217.87,611.67 L218.75,611.81 L219.63,611.97 L220.51,612.29 L221.39,611.83 L222.27,611.45 L223.15,612.08 L224.03,611.35 L224.91,611.66 L225.8,611.68 L226.68,610.88 L227.56,611.42 L228.44,611.79 L229.32,611.64 L230.2,611.02 L230.65,609.27 L231.1,603.23 L231.55,595.23 L231.86,593.09 L232,592.5 L232.42,593.87 L233.05,597.96 L233.76,603.42 L234.52,607.71 L235.36,610.25 L236.2,611.41 L237.11,611.74 L238.03,612.04 L238.94,611.34 L239.85,611.43 L240.77,611.46 L241.68,611.93 L242.59,612.17 L243.5,612.35 L244.42,612.14 L245.33,612.43 L246.24,612.33 L247.16,612.28 L248.07,611.63 L248.98,610.96 L249.9,610.7 L250.81,610.83 L251.72,610.53 L252.63,611.29 L253.55,611.36 L254.46,611.47 L255.37,611.51 L256.29,611.58 L257.2,611.12 L257.65,609.55 L258.1,604.12 L258.55,596.95 L258.86,595.02 L259,594.5 L259.42,595.73 L260.05,599.4 L260.76,604.3 L261.52,608.15 L262.36,610.42 L263.2,611.48 L264.11,611.47 L265.02,610.82 L265.94,611.49 L266.85,611.83 L267.76,611.71 L268.67,611.68 L269.58,611.83 L270.49,611.14 L271.41,611.61 L272.32,611.26 L273.23,610.82 L274.14,610.81 L275.05,611.42 L275.96,611.09 L276.88,611.61 L277.79,612.23 L278.7,611.97 L279.61,611.65 L280.52,611.58 L281.44,611.81 L282.35,612.05 L283.26,611.99 L284.17,611.98 L285.08,611.22 L285.99,610.83 L286.91,610.72 L287.82,611.28 L288.73,611.02 L289.64,611.2 L290.55,610.56 L291.46,610.22 L292.38,610.27 L293.29,610.82 L294.2,611.1 L294.65,609.48 L295.1,603.9 L295.55,596.52 L295.86,594.54 L296,594 L296.42,595.26 L297.05,599.04 L297.76,604.08 L298.52,608.04 L299.36,610.38 L300.2,611.46 L301.09,611.72 L301.98,611.86 L302.87,611.44 L303.77,611.48 L304.66,611.45 L305.55,611.43 L306.44,610.96 L307.33,611.71 L308.22,611.24 L309.11,611.99 L310,612.39 L310.9,611.41 L311.79,611.38 L312.68,611.84 L313.57,612.3 L314.46,611.89 L315.35,611.35 L316.24,610.92 L317.13,611.62 L318.03,611.03 L318.92,611.15 L319.81,610.62 L320.7,611.02 L321.15,609.27 L321.6,603.23 L322.05,595.23 L322.36,593.09 L322.5,592.5 L322.92,593.87 L323.55,597.96 L324.26,603.42 L325.02,607.71 L325.86,610.25 L326.7,611.41 L327.57,611.54 L328.44,612.21 L329.31,611.57 L330.18,612.13 L331.05,612.09 L331.92,612.61 L332.78,612.69 L333.65,612.11 L334.52,612.67 L335.39,612.41 L336.26,611.62 L337.13,611.11" fill="none" stroke="#E8322C" stroke-width="1.0" stroke-linejoin="round"/>
<line x1="38" y1="641" x2="38" y2="732.3" stroke="#000" stroke-width="1.7"/>
<line x1="30" y1="664" x2="38" y2="664" stroke="#000" stroke-width="1.6"/>
<text x="27.5" y="669" font-family='"Liberation Serif", serif' font-weight="bold" font-size="15.6" stroke="#000" stroke-width="0.25" text-anchor="end">1.5</text>
<line x1="30" y1="689.3" x2="38" y2="689.3" stroke="#000" stroke-width="1.6"/>
<text x="27.5" y="694.3" font-family='"Liberation Serif", serif' font-weight="bold" font-size="15.6" stroke="#000" stroke-width="0.25" text-anchor="end">1.0</text>
<line x1="30" y1="715" x2="38" y2="715" stroke="#000" stroke-width="1.6"/>
<text x="27.5" y="720" font-family='"Liberation Serif", serif' font-weight="bold" font-size="15.6" stroke="#000" stroke-width="0.25" text-anchor="end">0.5</text>
<line x1="38" y1="732.5" x2="334.5" y2="732.5" stroke="#1a1a1a" stroke-width="1.2" stroke-dasharray="4.6,2.3"/>
<text x="47" y="652" font-family='"Liberation Serif", serif' font-weight="bold" font-size="13.3">DM+Fuc</text>
<path d="M39.98,729.55 L40.95,729.69 L41.92,729.49 L42.9,728.8 L43.42,723.09 L43.95,710.44 L44.48,693.71 L44.83,689.22 L45,688 L45.45,690.65 L46.12,698.58 L46.89,709.17 L47.7,717.48 L48.6,722.4 L49.5,724.67 L50.36,725.47 L51.23,726.36 L52.09,727.02 L52.95,727.66 L53.81,728.04 L54.67,728.51 L55.54,728.74 L56.4,728.8 L56.92,723.44 L57.45,711.56 L57.98,695.86 L58.33,691.65 L58.5,690.5 L58.95,692.97 L59.62,700.38 L60.39,710.27 L61.2,718.03 L62.1,722.62 L63,724.74 L63.93,725.43 L64.87,726.36 L65.8,727.07 L66.73,727.59 L67.67,727.93 L68.6,728.34 L69.53,728.53 L70.47,728.78 L71.4,728.8 L71.92,722.46 L72.45,708.41 L72.97,689.84 L73.33,684.86 L73.5,683.5 L73.95,686.46 L74.62,695.34 L75.39,707.19 L76.2,716.49 L77.1,721.99 L78,724.53 L78.88,725.36 L79.76,726.13 L80.63,726.82 L81.51,727.26 L82.39,727.65 L83.27,728.09 L84.14,728.49 L85.02,728.59 L85.9,728.8 L86.42,722.46 L86.95,708.41 L87.47,689.84 L87.83,684.86 L88,683.5 L88.45,686.46 L89.12,695.34 L89.89,707.19 L90.7,716.49 L91.6,721.99 L92.5,724.53 L93.38,725.44 L94.26,726.15 L95.13,726.8 L96.01,727.3 L96.89,727.71 L97.77,728.19 L98.64,728.58 L99.52,728.79 L100.4,728.8 L100.92,722.32 L101.45,707.96 L101.97,688.98 L102.33,683.89 L102.5,682.5 L102.95,685.53 L103.62,694.62 L104.39,706.75 L105.2,716.27 L106.1,721.9 L107,724.5 L107.88,725.39 L108.76,726.2 L109.63,726.98 L110.51,727.5 L111.39,727.92 L112.27,728.4 L113.14,728.48 L114.02,728.69 L114.9,728.8 L115.42,722.6 L115.95,708.87 L116.47,690.7 L116.83,685.83 L117,684.5 L117.45,687.39 L118.12,696.06 L118.89,707.63 L119.7,716.71 L120.6,722.08 L121.5,724.56 L122.42,725.45 L123.35,726.42 L124.28,727.12 L125.2,727.57 L126.12,728 L127.05,728.52 L127.98,728.58 L128.9,728.8 L129.43,723.58 L129.95,712.01 L130.47,696.72 L130.83,692.62 L131,691.5 L131.45,693.9 L132.12,701.1 L132.89,710.71 L133.7,718.25 L134.6,722.71 L135.5,724.77 L136.43,725.64 L137.35,726.49 L138.28,727.11 L139.2,727.7 L140.12,728.31 L141.05,728.56 L141.97,728.72 L142.9,728.8 L143.43,722.88 L143.95,709.76 L144.47,692.42 L144.83,687.77 L145,686.5 L145.45,689.25 L146.12,697.5 L146.89,708.51 L147.7,717.15 L148.6,722.26 L149.5,724.62 L150.36,725.47 L151.22,726.4 L152.09,727.05 L152.95,727.51 L153.81,727.99 L154.68,728.35 L155.54,728.66 L156.4,728.8 L156.93,723.16 L157.45,710.66 L157.97,694.14 L158.33,689.71 L158.5,688.5 L158.95,691.11 L159.62,698.94 L160.39,709.39 L161.2,717.59 L162.1,722.44 L163,724.68 L163.93,725.47 L164.87,726.2 L165.8,727.01 L166.73,727.56 L167.67,727.95 L168.6,728.29 L169.53,728.45 L170.47,728.52 L171.4,728.8 L171.93,722.11 L172.45,707.29 L172.97,687.69 L173.33,682.43 L173.5,681 L173.95,684.14 L174.62,693.54 L175.39,706.09 L176.2,715.94 L177.1,721.77 L178,724.46 L178.94,725.15 L179.88,725.8 L180.82,726.52 L181.76,726.95 L182.7,727.46 L183.64,728.02 L184.58,728.49 L185.52,728.57 L186.46,728.67 L187.4,728.8 L187.93,722.74 L188.45,709.31 L188.97,691.56 L189.33,686.8 L189.5,685.5 L189.95,688.32 L190.62,696.78 L191.39,708.07 L192.2,716.93 L193.1,722.17 L194,724.59 L194.91,725.63 L195.83,726.62 L196.74,727.24 L197.66,727.76 L198.57,728.32 L199.49,728.66 L200.4,728.8 L200.93,722.81 L201.45,709.54 L201.97,691.99 L202.33,687.28 L202.5,686 L202.95,688.79 L203.62,697.14 L204.39,708.29 L205.2,717.04 L206.1,722.22 L207,724.61 L207.86,725.42 L208.72,726.35 L209.59,727.08 L210.45,727.69 L211.31,728.11 L212.18,728.44 L213.04,728.55 L213.9,728.8 L214.43,722.18 L214.95,707.51 L215.47,688.12 L215.83,682.92 L216,681.5 L216.45,684.6 L217.12,693.9 L217.89,706.31 L218.7,716.05 L219.6,721.81 L220.5,724.47 L221.43,725.36 L222.35,726.28 L223.28,727.09 L224.2,727.67 L225.12,728.25 L226.05,728.46 L226.97,728.52 L227.9,728.8 L228.43,722.53 L228.95,708.64 L229.47,690.27 L229.83,685.34 L230,684 L230.45,686.93 L231.12,695.7 L231.89,707.41 L232.7,716.6 L233.6,722.04 L234.5,724.55 L235.38,725.4 L236.26,726.28 L237.13,726.93 L238.01,727.4 L238.89,727.73 L239.77,728.21 L240.64,728.58 L241.52,728.77 L242.4,728.8 L242.93,722.39 L243.45,708.19 L243.97,689.41 L244.33,684.37 L244.5,683 L244.95,686 L245.62,694.98 L246.39,706.97 L247.2,716.38 L248.1,721.95 L249,724.52 L249.93,725.51 L250.85,726.5 L251.77,727.06 L252.7,727.49 L253.62,727.97 L254.55,728.41 L255.47,728.64 L256.4,728.8 L256.93,722.88 L257.45,709.76 L257.98,692.42 L258.33,687.77 L258.5,686.5 L258.95,689.25 L259.62,697.5 L260.39,708.51 L261.2,717.15 L262.1,722.26 L263,724.62 L263.93,725.62 L264.85,726.53 L265.77,727.19 L266.7,727.74 L267.62,728.2 L268.55,728.56 L269.47,728.57 L270.4,728.8 L270.93,722.67 L271.45,709.09 L271.98,691.13 L272.33,686.31 L272.5,685 L272.95,687.86 L273.62,696.42 L274.39,707.85 L275.2,716.82 L276.1,722.13 L277,724.58 L277.86,725.55 L278.73,726.36 L279.59,727.15 L280.45,727.67 L281.31,728.12 L282.17,728.41 L283.04,728.54 L283.9,728.8 L284.43,722.39 L284.95,708.19 L285.48,689.41 L285.83,684.37 L286,683 L286.45,686 L287.12,694.98 L287.89,706.97 L288.7,716.38 L289.6,721.95 L290.5,724.52 L291.38,725.36 L292.26,726.2 L293.13,726.79 L294.01,727.19 L294.89,727.72 L295.77,728.25 L296.64,728.47 L297.52,728.57 L298.4,728.8 L298.93,723.58 L299.45,712.01 L299.98,696.72 L300.33,692.62 L300.5,691.5 L300.95,693.9 L301.62,701.1 L302.39,710.71 L303.2,718.25 L304.1,722.71 L305,724.77 L305.93,725.67 L306.85,726.43 L307.77,727.07 L308.7,727.61 L309.62,728.25 L310.55,728.62 L311.47,728.81 L312.4,728.8 L312.93,722.32 L313.45,707.96 L313.98,688.98 L314.33,683.89 L314.5,682.5 L314.95,685.53 L315.62,694.62 L316.39,706.75 L317.2,716.27 L318.1,721.9 L319,724.5 L319.93,725.41 L320.85,726.26 L321.77,726.91 L322.7,727.6 L323.62,728.17 L324.55,728.48 L325.47,728.52 L326.4,728.8 L326.93,722.39 L327.45,708.19 L327.98,689.41 L328.33,684.37 L328.5,683 L328.95,686 L329.62,694.98 L330.39,706.97 L331.2,716.38 L332.1,721.95 L333,724.52 L334,726.84 L335,728.31" fill="none" stroke="#3A6CF0" stroke-width="1.15" stroke-linejoin="round"/>
<text x="294" y="750" font-family='"Liberation Serif", serif' font-weight="bold" font-size="13.9">5 min</text>
<text x="1.5" y="300.8" font-family='"Liberation Serif", serif' font-weight="bold" font-size="21.5">D</text>
<text x="341" y="300.5" font-family='"Liberation Serif", serif' font-weight="bold" font-size="21.5">H</text>
<text x="351.8" y="316" font-family='"Liberation Serif", serif' font-weight="bold" font-size="13.5">Con</text>
<path d="M409.57,390.73 C409.96,390.49 411.77,389.41 412.54,388.9 C413.31,388.4 414.99,387.8 415.5,386.85 C416,385.9 416.14,385.85 416.41,381.61 C416.68,377.37 417.19,360.63 417.55,354.26 C417.91,347.89 418.82,333.2 419.15,332.61 C419.47,332.01 419.82,344.81 420.06,349.7 C420.29,354.59 420.61,366.36 420.97,370.21 C421.32,374.07 422.11,377.26 422.79,379.33 C423.47,381.4 425.17,384.54 426.21,386.17 C427.25,387.8 430.18,391.13 430.77,391.87" fill="none" stroke="#E845BA" stroke-width="1.15" stroke-linejoin="round" stroke-linecap="round"/>
<path d="M452.88,384.8 C453.35,384.89 455.99,385.9 456.52,385.48 C457.06,385.07 456.77,385.97 456.98,381.61 C457.19,377.25 457.79,358.5 458.12,351.98 C458.45,345.46 459.16,331.17 459.49,331.47 C459.81,331.76 460.36,348.93 460.63,354.26 C460.89,359.59 461.12,368.34 461.54,372.49 C461.95,376.64 463.08,383.71 463.82,386.17 C464.56,388.63 466.5,390.76 467.24,391.41 C467.98,392.06 469.07,391.42 469.52,391.18 C469.96,390.95 470.51,389.79 470.66,389.59" fill="none" stroke="#E845BA" stroke-width="1.15" stroke-linejoin="round" stroke-linecap="round"/>
<path d="M488.43,387.31 C488.73,387.6 490.06,389.74 490.71,389.59 C491.36,389.44 492.85,390.17 493.45,386.17 C494.04,382.17 494.77,367.17 495.27,358.82 C495.77,350.46 496.94,324.26 497.32,321.89 C497.71,319.52 498,335.19 498.23,340.58 C498.47,345.98 498.82,359.08 499.15,363.38 C499.47,367.67 500.3,371.26 500.74,373.63 C501.19,376 501.88,379.74 502.56,381.61 C503.25,383.48 505.54,387.16 505.98,387.99" fill="none" stroke="#E845BA" stroke-width="1.15" stroke-linejoin="round" stroke-linecap="round"/>
<path d="M525.36,387.31 C525.71,387.75 527.44,391.47 528.09,390.73 C528.74,389.99 529.84,387.54 530.37,381.61 C530.9,375.68 531.75,353.14 532.19,345.14 C532.64,337.14 533.37,320.66 533.79,320.07 C534.2,319.48 535,335.55 535.38,340.58 C535.77,345.62 536.37,354.67 536.75,358.82 C537.14,362.97 537.9,369.53 538.35,372.49 C538.79,375.46 539.55,379.39 540.17,381.61 C540.79,383.83 542.33,388.05 543.13,389.59 C543.93,391.13 545.91,392.96 546.32,393.46" fill="none" stroke="#E845BA" stroke-width="1.15" stroke-linejoin="round" stroke-linecap="round"/>
<path d="M562.99,387.03 C563.5,386.67 566.27,385.48 566.89,384.22 C567.51,382.95 567.42,379.03 567.76,377.29 C568.09,375.54 569.09,375.86 569.49,370.79 C569.88,365.72 570.42,346.05 570.79,338.31 C571.15,330.57 571.97,313.49 572.3,311.24 C572.64,308.99 573.13,318.03 573.39,320.99 C573.64,323.94 574,330.18 574.25,333.98 C574.51,337.78 575.05,347.83 575.34,350.22 C575.62,352.61 576.05,349.99 576.42,352.38 C576.78,354.78 577.7,365.11 578.15,368.62 C578.6,372.14 579.46,376.92 579.88,379.45 C580.31,381.99 580.92,386.37 581.4,388.11 C581.88,389.86 582.92,391.98 583.56,392.88 C584.21,393.78 586.01,394.76 586.38,395.04" fill="none" stroke="#E845BA" stroke-width="1.15" stroke-linejoin="round" stroke-linecap="round"/>
<path d="M600.24,380.53 C600.41,381.8 601.03,388.51 601.54,390.28 C602.04,392.05 603.57,395.3 604.14,394.18 C604.7,393.05 605.42,388.32 605.87,381.62 C606.32,374.92 607.12,352.55 607.6,342.64 C608.08,332.73 609.16,309.34 609.55,305.39 C609.94,301.45 610.35,310.02 610.63,312.32 C610.91,314.63 611.38,319.07 611.72,323.15 C612.05,327.23 612.81,340.77 613.23,343.72 C613.65,346.68 614.46,343.21 614.96,345.89 C615.47,348.56 616.51,359.51 617.13,364.29 C617.75,369.08 619.11,380.45 619.73,382.7 C620.35,384.95 621.25,380.49 621.89,381.62 C622.54,382.74 624.06,389.62 624.71,391.36 C625.36,393.11 626.31,394.4 626.87,395.04 C627.44,395.69 628.76,396.17 629.04,396.34" fill="none" stroke="#E845BA" stroke-width="1.15" stroke-linejoin="round" stroke-linecap="round"/>
<line x1="347" y1="405.5" x2="647" y2="405.5" stroke="#1a1a1a" stroke-width="1.2" stroke-dasharray="4.6,2.3"/>
<path d="M660,309.5 V331.3 H681" fill="none" stroke="#777" stroke-width="1"/>
<text x="660.5" y="341.6" font-family='"Liberation Serif", serif' font-weight="bold" font-size="11.5">20 s</text>
<text transform="translate(654,332) rotate(-90)" font-family='"Liberation Serif", serif' font-weight="bold" font-size="11.5">0.5 g</text>
<text x="351.8" y="429.5" font-family='"Liberation Serif", serif' font-weight="bold" font-size="13.5">Fuc</text>
<path d="M407.29,507.31 C407.47,506.92 408.28,504.94 408.66,504.34 C409.05,503.75 409.84,502.75 410.26,502.75 C410.67,502.75 411.47,504.26 411.85,504.34 C412.24,504.43 412.83,503.34 413.22,503.43 C413.6,503.52 414.4,505.56 414.81,505.03 C415.23,504.5 416.05,502.44 416.41,499.33 C416.77,496.22 417.22,485.84 417.55,481.1 C417.88,476.36 418.59,464.79 418.92,462.86 C419.24,460.94 419.79,463.62 420.06,466.28 C420.32,468.95 420.73,479.67 420.97,483.38 C421.21,487.08 421.64,492.25 421.88,494.77 C422.12,497.29 422.44,501.27 422.79,502.75 C423.15,504.23 424.02,505.43 424.62,506.17 C425.21,506.91 426.76,508.39 427.35,508.45 C427.94,508.51 428.73,506.77 429.17,506.62 C429.62,506.48 430.35,507.81 430.77,507.31 C431.18,506.8 431.92,503.49 432.36,502.75 C432.81,502.01 433.95,501.76 434.19,501.61" fill="none" stroke="#2E8B32" stroke-width="1.05" stroke-linejoin="round" stroke-linecap="round"/>
<path d="M448.32,507.31 C448.47,506.86 449.16,504.69 449.46,503.89 C449.75,503.09 450.3,501.01 450.6,501.15 C450.89,501.3 451.44,504.38 451.74,505.03 C452.03,505.68 452.49,506.26 452.88,506.17 C453.26,506.08 454.17,504.49 454.7,504.34 C455.23,504.2 456.48,506.87 456.98,505.03 C457.48,503.19 458.25,494.51 458.58,490.21 C458.9,485.92 459.25,476.28 459.49,471.98 C459.72,467.68 460.16,456.87 460.4,457.17 C460.64,457.46 461.01,469.37 461.31,474.26 C461.61,479.15 462.35,491.07 462.68,494.77 C463,498.48 463.52,501.27 463.82,502.75 C464.11,504.23 464.6,505.49 464.96,506.17 C465.31,506.85 466.11,507.84 466.55,507.99 C467,508.14 467.9,507.69 468.38,507.31 C468.85,506.92 469.75,505.53 470.2,505.03 C470.64,504.52 471.38,504.03 471.79,503.43 C472.21,502.84 473.18,500.86 473.39,500.47" fill="none" stroke="#2E8B32" stroke-width="1.05" stroke-linejoin="round" stroke-linecap="round"/>
<path d="M487.75,505.03 C487.96,505.32 488.9,506.86 489.34,507.31 C489.79,507.75 490.75,508.65 491.17,508.45 C491.58,508.24 492.18,506.6 492.54,505.71 C492.89,504.82 493.52,505.7 493.9,501.61 C494.29,497.52 495.05,481.37 495.5,474.26 C495.94,467.15 496.94,448.39 497.32,446.91 C497.71,445.43 498.14,458.12 498.46,462.86 C498.79,467.6 499.47,479.52 499.83,483.38 C500.18,487.23 500.84,490.57 501.2,492.49 C501.55,494.42 502.21,497.66 502.56,498.19 C502.92,498.72 503.64,496.21 503.93,496.6 C504.23,496.98 504.58,500.8 504.84,501.15 C505.11,501.51 505.69,499.12 505.98,499.33 C506.28,499.54 506.77,502.1 507.12,502.75 C507.48,503.4 508.27,503.75 508.72,504.34 C509.16,504.94 510.16,507.07 510.54,507.31 C510.93,507.54 511.38,506.61 511.68,506.17 C511.98,505.72 512.67,504.19 512.82,503.89" fill="none" stroke="#2E8B32" stroke-width="1.05" stroke-linejoin="round" stroke-linecap="round"/>
<path d="M524.22,506.17 C524.42,506.02 525.43,504.97 525.81,505.03 C526.2,505.09 526.79,506.62 527.18,506.62 C527.56,506.62 528.36,505.98 528.77,505.03 C529.19,504.08 529.99,503.63 530.37,499.33 C530.76,495.03 531.38,479.98 531.74,471.98 C532.09,463.98 532.81,438.68 533.11,437.79 C533.4,436.9 533.78,458.33 534.02,465.14 C534.25,471.96 534.69,485.62 534.93,490.21 C535.17,494.81 535.6,498.54 535.84,500.47 C536.08,502.4 536.34,504.14 536.75,505.03 C537.17,505.92 538.5,506.92 539.03,507.31 C539.56,507.69 540.41,507.7 540.85,507.99 C541.3,508.29 541.95,509.53 542.45,509.59 C542.95,509.65 544.14,508.89 544.73,508.45 C545.32,508 546.71,506.46 547.01,506.17" fill="none" stroke="#2E8B32" stroke-width="1.05" stroke-linejoin="round" stroke-linecap="round"/>
<path d="M563.43,501.62 C563.51,502.18 563.85,505.1 564.08,505.95 C564.3,506.79 564.79,507.72 565.16,508.11 C565.52,508.51 566.38,508.98 566.89,508.98 C567.4,508.98 568.66,509.35 569.06,508.11 C569.45,506.88 569.72,502.27 569.92,499.45 C570.12,496.64 570.35,491.81 570.57,486.46 C570.8,481.11 571.4,465.01 571.65,458.31 C571.91,451.61 572.32,436.33 572.52,434.92 C572.72,433.51 573,444.44 573.17,447.48 C573.34,450.52 573.62,455.21 573.82,458.31 C574.02,461.41 574.49,468.77 574.69,471.3 C574.88,473.83 575.11,478.08 575.34,477.8 C575.56,477.52 576.14,470.88 576.42,469.14 C576.7,467.39 577.25,463.81 577.5,464.37 C577.75,464.94 578.14,470.88 578.37,473.47 C578.59,476.06 578.98,481.34 579.23,484.29 C579.49,487.25 580.03,493.67 580.32,496.2 C580.6,498.74 581.06,502.29 581.4,503.78 C581.74,505.28 582.49,506.98 582.91,507.68 C583.34,508.38 584.2,509.2 584.65,509.2 C585.1,509.2 585.96,508.53 586.38,507.68 C586.8,506.84 587.7,503.35 587.9,502.7" fill="none" stroke="#2E8B32" stroke-width="1.05" stroke-linejoin="round" stroke-linecap="round"/>
<path d="M601.97,507.03 C602.2,507.28 603.28,508.7 603.7,508.98 C604.13,509.26 604.82,509.31 605.22,509.2 C605.61,509.08 606.37,508.82 606.73,508.11 C607.1,507.41 607.75,507.44 608.03,503.78 C608.32,500.12 608.7,485.87 608.9,479.96 C609.1,474.05 609.35,463.38 609.55,458.31 C609.75,453.24 610.19,444.5 610.42,440.99 C610.64,437.47 611.06,430.68 611.28,431.24 C611.51,431.8 611.95,441.8 612.15,445.32 C612.35,448.83 612.52,455.63 612.8,458.31 C613.08,460.98 614,463.35 614.31,465.89 C614.62,468.42 614.95,475.12 615.18,477.8 C615.4,480.47 615.74,483.93 616.05,486.46 C616.36,488.99 617.14,495.03 617.56,497.29 C617.98,499.54 618.84,502.52 619.29,503.78 C619.74,505.05 620.6,506.47 621.03,507.03 C621.45,507.59 622.12,508.31 622.54,508.11 C622.96,507.92 623.85,506.08 624.27,505.52 C624.7,504.95 625.37,503.67 625.79,503.78 C626.21,503.9 627.07,506.1 627.52,506.38 C627.97,506.66 628.78,505.86 629.26,505.95 C629.73,506.03 630.95,506.89 631.2,507.03" fill="none" stroke="#2E8B32" stroke-width="1.05" stroke-linejoin="round" stroke-linecap="round"/>
<line x1="347" y1="515.5" x2="643" y2="515.5" stroke="#1a1a1a" stroke-width="1.2" stroke-dasharray="4.6,2.3"/>
<text x="351.8" y="537" font-family='"Liberation Serif", serif' font-weight="bold" font-size="13.5">DM</text>
<path d="M407.98,609.89 C408.27,610.03 409.75,611.77 410.26,611.03 C410.76,610.28 411.41,605.73 411.85,604.19 C412.3,602.65 413.2,599.47 413.68,599.17 C414.15,598.88 415.05,601.26 415.5,601.91 C415.94,602.56 416.68,604.63 417.09,604.19 C417.51,603.74 418.25,598.93 418.69,598.49 C419.13,598.05 420.13,599.14 420.51,600.77 C420.9,602.4 421.27,609.4 421.65,611.03 C422.04,612.66 423.03,612.86 423.48,613.3 C423.92,613.75 424.86,614.3 425.07,614.44" fill="none" stroke="#E8322C" stroke-width="1.15" stroke-linejoin="round" stroke-linecap="round"/>
<path d="M446.27,611.03 C446.83,611.03 449.74,611.91 450.6,611.03 C451.46,610.14 452.34,605.82 452.88,604.19 C453.41,602.56 454.32,599.62 454.7,598.49 C455.09,597.36 455.48,595.68 455.84,595.53 C456.2,595.38 456.99,597.41 457.44,597.35 C457.88,597.29 458.79,594.77 459.26,595.07 C459.73,595.37 460.64,597.56 461.08,599.63 C461.53,601.7 462.17,609.37 462.68,611.03 C463.18,612.68 464.45,612.25 464.96,612.39 C465.46,612.54 466.35,612.19 466.55,612.17" fill="none" stroke="#E8322C" stroke-width="1.15" stroke-linejoin="round" stroke-linecap="round"/>
<path d="M486.61,614.44 C487.05,614.06 489.14,611.99 490.03,611.48 C490.92,610.98 492.71,612.11 493.45,610.57 C494.19,609.03 495.22,602.03 495.73,599.63 C496.23,597.23 496.88,591.52 497.32,592.11 C497.77,592.7 498.61,602.32 499.15,604.19 C499.68,606.05 500.83,605.58 501.42,606.47 C502.02,607.36 503.17,610.14 503.7,611.03 C504.24,611.91 505.08,612.65 505.53,613.3 C505.97,613.96 506.92,615.68 507.12,616.04" fill="none" stroke="#E8322C" stroke-width="1.15" stroke-linejoin="round" stroke-linecap="round"/>
<path d="M522.62,614.44 C522.92,614.59 524.31,616.18 524.9,615.58 C525.49,614.99 526.68,610.77 527.18,609.89 C527.68,609 528.27,611.12 528.77,608.75 C529.28,606.38 530.46,593.73 531.05,591.65 C531.65,589.58 532.65,592.64 533.33,592.79 C534.01,592.94 535.7,591.9 536.3,592.79 C536.89,593.68 537.48,597.26 537.89,599.63 C538.31,602 539.04,609.4 539.49,611.03 C539.93,612.66 540.93,612.61 541.31,612.17 C541.7,611.72 542.15,607.61 542.45,607.61 C542.75,607.61 543.44,611.57 543.59,612.17" fill="none" stroke="#E8322C" stroke-width="1.15" stroke-linejoin="round" stroke-linecap="round"/>
<path d="M562.99,612.23 C563.33,612.23 565.08,613.49 565.59,612.23 C566.1,610.96 566.58,605.16 566.89,602.48 C567.2,599.81 567.69,594.13 567.97,591.65 C568.25,589.18 568.8,583.71 569.06,583.43 C569.31,583.14 569.72,587.72 569.92,589.49 C570.12,591.26 570.21,595.38 570.57,597.07 C570.94,598.76 572.17,601.21 572.74,602.48 C573.3,603.75 574.34,606.19 574.9,606.81 C575.47,607.43 576.5,606.54 577.07,607.25 C577.63,607.95 578.53,611.21 579.23,612.23 C579.94,613.24 581.64,614.68 582.48,615.04 C583.33,615.41 585.31,615.04 585.73,615.04" fill="none" stroke="#E8322C" stroke-width="1.15" stroke-linejoin="round" stroke-linecap="round"/>
<path d="M603.05,610.71 C603.19,611.05 603.85,612.83 604.14,613.31 C604.42,613.79 604.71,614.39 605.22,614.39 C605.73,614.39 607.47,614.86 608.03,613.31 C608.6,611.76 609.21,605.16 609.55,602.48 C609.89,599.81 610.38,594.85 610.63,592.74 C610.89,590.63 611.22,586.38 611.5,586.24 C611.78,586.1 612.49,590.39 612.8,591.65 C613.11,592.92 613.54,595.28 613.88,595.99 C614.22,596.69 614.97,595.8 615.4,597.07 C615.82,598.33 616.68,604.46 617.13,605.73 C617.58,607 618.47,606.17 618.86,606.81 C619.26,607.46 619.82,609.87 620.16,610.71 C620.5,611.55 621.01,612.75 621.46,613.31 C621.91,613.87 623.06,614.7 623.62,615.04 C624.19,615.38 624.89,615.77 625.79,615.91 C626.69,616.05 629.94,616.1 630.55,616.12" fill="none" stroke="#E8322C" stroke-width="1.15" stroke-linejoin="round" stroke-linecap="round"/>
<line x1="347" y1="623.5" x2="647.5" y2="623.5" stroke="#1a1a1a" stroke-width="1.2" stroke-dasharray="4.6,2.3"/>
<text x="351.8" y="652.5" font-family='"Liberation Serif", serif' font-weight="bold" font-size="13.5">DM+Fuc</text>
<path d="M407.29,720.2 C407.59,720.55 409.04,722.28 409.57,722.93 C410.11,723.59 410.8,724.68 411.4,725.21 C411.99,725.75 413.63,727.48 414.13,727.04 C414.63,726.59 415.03,723.51 415.27,721.79 C415.51,720.08 415.63,715.98 415.95,713.82 C416.28,711.65 417.42,705.3 417.78,705.16 C418.13,705.01 418.48,710.66 418.69,712.68 C418.9,714.69 419.14,719.2 419.37,720.66 C419.61,722.11 420.22,723.25 420.51,723.85 C420.81,724.44 420.82,724.95 421.65,725.21 C422.48,725.48 426.21,725.81 426.89,725.9" fill="none" stroke="#3A6CF0" stroke-width="1.3" stroke-linejoin="round" stroke-linecap="round"/>
<path d="M446.72,727.49 C447.32,727.43 450.57,727.63 451.28,727.04 C451.99,726.44 451.99,724.65 452.19,722.93 C452.4,721.22 452.64,716.63 452.88,713.82 C453.11,711 453.72,704.01 454.02,701.28 C454.31,698.56 454.89,693 455.16,692.85 C455.42,692.7 455.83,697.71 456.07,700.14 C456.31,702.57 456.74,708.87 456.98,711.54 C457.22,714.21 457.65,718.88 457.89,720.66 C458.13,722.43 458.33,724.53 458.8,725.21 C459.28,725.9 460.74,725.96 461.54,725.9 C462.34,725.84 464.22,724.7 464.96,724.76 C465.7,724.82 466.94,726.15 467.24,726.35" fill="none" stroke="#3A6CF0" stroke-width="1.3" stroke-linejoin="round" stroke-linecap="round"/>
<path d="M483.65,724.76 C483.88,724.99 484.94,726.08 485.47,726.58 C486,727.08 487.22,728.57 487.75,728.63 C488.28,728.69 489.13,727.78 489.57,727.04 C490.02,726.3 490.81,724.8 491.17,722.93 C491.52,721.07 492.01,715.64 492.31,712.68 C492.6,709.72 493.15,703.25 493.45,700.14 C493.74,697.03 494.29,691.18 494.59,688.75 C494.88,686.32 495.43,681.9 495.73,681.45 C496.02,681.01 496.57,684.23 496.87,685.33 C497.16,686.42 497.71,687.52 498.01,689.89 C498.3,692.26 498.85,700.15 499.15,703.56 C499.44,706.97 499.96,713.58 500.28,716.1 C500.61,718.62 501.3,721.45 501.65,722.93 C502.01,724.42 502.66,727.34 503.02,727.49 C503.38,727.64 504,725.32 504.39,724.07 C504.77,722.83 505.78,718.72 505.98,717.92" fill="none" stroke="#3A6CF0" stroke-width="1.3" stroke-linejoin="round" stroke-linecap="round"/>
<path d="M520.8,725.9 C521.33,725.81 524.16,725.07 524.9,725.21 C525.64,725.36 526.14,728.22 526.5,727.04 C526.85,725.85 527.34,719.59 527.64,716.1 C527.93,712.6 528.48,703.85 528.77,700.14 C529.07,696.44 529.62,690.18 529.91,687.61 C530.21,685.03 530.76,680.61 531.05,680.31 C531.35,680.02 531.9,683.94 532.19,685.33 C532.49,686.72 532.98,688.21 533.33,691.03 C533.69,693.84 534.54,703.42 534.93,706.98 C535.31,710.54 535.91,716.75 536.3,718.38 C536.68,720.01 537.48,718.77 537.89,719.52 C538.31,720.26 538.89,723.04 539.49,724.07 C540.08,725.11 541.62,726.81 542.45,727.49 C543.28,728.17 545.42,729.08 545.87,729.32" fill="none" stroke="#3A6CF0" stroke-width="1.3" stroke-linejoin="round" stroke-linecap="round"/>
<path d="M562.56,720.38 C562.64,720.74 563.01,722.63 563.21,723.19 C563.41,723.75 563.6,724.6 564.08,724.71 C564.55,724.82 566.36,725.18 566.89,724.06 C567.43,722.93 567.85,718.35 568.19,716.05 C568.53,713.74 569.18,709.54 569.49,706.3 C569.8,703.06 570.29,694.66 570.57,691.14 C570.85,687.62 571.23,680.87 571.65,679.23 C572.08,677.6 573.45,677.74 573.82,678.58 C574.19,679.43 574.33,684.24 574.47,685.73 C574.61,687.22 574.71,689.69 574.9,690.06 C575.1,690.43 575.7,687.84 575.99,688.54 C576.27,689.25 576.79,693.73 577.07,695.47 C577.35,697.22 577.84,701.46 578.15,701.97 C578.46,702.48 579.11,699.88 579.45,699.37 C579.79,698.87 580.47,697.96 580.75,698.07 C581.03,698.19 581.39,699.45 581.62,700.24 C581.84,701.03 582.14,702.36 582.48,704.14 C582.82,705.91 583.79,711.63 584.21,713.88 C584.64,716.13 585.34,719.77 585.73,721.46 C586.12,723.15 586.82,725.75 587.25,726.87 C587.67,728 588.58,729.76 588.98,730.12 C589.37,730.49 590,729.97 590.28,729.69 C590.56,729.41 590.97,729.03 591.14,727.96 C591.31,726.89 591.52,722.3 591.58,721.46" fill="none" stroke="#3A6CF0" stroke-width="1.3" stroke-linejoin="round" stroke-linecap="round"/>
<path d="M601.54,719.29 C601.76,719.8 602.79,722.21 603.27,723.19 C603.75,724.18 604.74,726.14 605.22,726.87 C605.7,727.61 606.53,728.46 606.95,728.82 C607.37,729.19 608.13,729.86 608.47,729.69 C608.8,729.52 609.32,728.31 609.55,727.52 C609.77,726.73 610,726.1 610.2,723.62 C610.4,721.15 610.87,712.41 611.07,708.47 C611.26,704.53 611.52,697.25 611.72,693.31 C611.91,689.37 612.36,681.25 612.58,678.15 C612.81,675.05 613.17,670.78 613.45,669.49 C613.73,668.19 614.41,668.41 614.75,668.19 C615.08,667.96 615.6,667.73 616.05,667.76 C616.5,667.78 617.79,667.62 618.21,668.41 C618.63,669.19 619.01,672.27 619.29,673.82 C619.58,675.37 620.04,677.78 620.38,680.32 C620.71,682.85 621.47,689.93 621.89,693.31 C622.31,696.69 623.17,703.63 623.62,706.3 C624.08,708.98 624.94,712.33 625.36,713.88 C625.78,715.43 626.48,717.23 626.87,718.21 C627.27,719.2 628.02,720.81 628.39,721.46 C628.75,722.11 629.35,723.33 629.69,723.19 C630.03,723.05 630.71,721.17 630.99,720.38 C631.27,719.59 631.74,717.55 631.85,717.13" fill="none" stroke="#3A6CF0" stroke-width="1.3" stroke-linejoin="round" stroke-linecap="round"/>
<line x1="347" y1="733.5" x2="648.5" y2="733.5" stroke="#1a1a1a" stroke-width="1.2" stroke-dasharray="4.6,2.3"/>
<text x="353.4" y="749.6" font-family='"Liberation Serif", serif' font-weight="bold" font-size="13.7">EFS</text>
<text x="408.3" y="749.6" font-family='"Liberation Serif", serif' font-weight="bold" font-size="13.7">2Hz</text>
<text x="446.3" y="749.6" font-family='"Liberation Serif", serif' font-weight="bold" font-size="13.7">4Hz</text>
<text x="487.3" y="749.6" font-family='"Liberation Serif", serif' font-weight="bold" font-size="13.7">8Hz</text>
<text x="522.2" y="749.6" font-family='"Liberation Serif", serif' font-weight="bold" font-size="13.7">16Hz</text>
<text x="564.3" y="749.6" font-family='"Liberation Serif", serif' font-weight="bold" font-size="13.7">32Hz</text>
<text x="607.6" y="749.6" font-family='"Liberation Serif", serif' font-weight="bold" font-size="13.7">64Hz</text>
<text x="455.3" y="778" font-family='"Liberation Serif", serif' font-weight="bold" font-size="21.5">I</text>
<line x1="489.6" y1="813" x2="489.6" y2="948.5999999999999" stroke="#000" stroke-width="1.6"/>
<line x1="488.8" y1="947.8" x2="699.5" y2="947.8" stroke="#000" stroke-width="1.6"/>
<line x1="484.1" y1="947.8" x2="489.6" y2="947.8" stroke="#000" stroke-width="1.6"/>
<text x="482.6" y="951.4" font-family='"Liberation Sans", sans-serif' font-weight="bold" font-size="10" text-anchor="end">0.0</text>
<line x1="484.1" y1="921.14" x2="489.6" y2="921.14" stroke="#000" stroke-width="1.6"/>
<text x="482.6" y="924.74" font-family='"Liberation Sans", sans-serif' font-weight="bold" font-size="10" text-anchor="end">0.5</text>
<line x1="484.1" y1="894.48" x2="489.6" y2="894.48" stroke="#000" stroke-width="1.6"/>
<text x="482.6" y="898.08" font-family='"Liberation Sans", sans-serif' font-weight="bold" font-size="10" text-anchor="end">1.0</text>
<line x1="484.1" y1="867.82" x2="489.6" y2="867.82" stroke="#000" stroke-width="1.6"/>
<text x="482.6" y="871.42" font-family='"Liberation Sans", sans-serif' font-weight="bold" font-size="10" text-anchor="end">1.5</text>
<line x1="484.1" y1="841.16" x2="489.6" y2="841.16" stroke="#000" stroke-width="1.6"/>
<text x="482.6" y="844.76" font-family='"Liberation Sans", sans-serif' font-weight="bold" font-size="10" text-anchor="end">2.0</text>
<line x1="484.1" y1="814.5" x2="489.6" y2="814.5" stroke="#000" stroke-width="1.6"/>
<text x="482.6" y="818.1" font-family='"Liberation Sans", sans-serif' font-weight="bold" font-size="10" text-anchor="end">2.5</text>
<line x1="511.7" y1="947.8" x2="511.7" y2="953.3" stroke="#000" stroke-width="1.6"/>
<text x="511.7" y="965" font-family='"Liberation Sans", sans-serif' font-weight="bold" font-size="10.4" text-anchor="middle">2Hz</text>
<line x1="545.3" y1="947.8" x2="545.3" y2="953.3" stroke="#000" stroke-width="1.6"/>
<text x="545.3" y="965" font-family='"Liberation Sans", sans-serif' font-weight="bold" font-size="10.4" text-anchor="middle">4Hz</text>
<line x1="578.1" y1="947.8" x2="578.1" y2="953.3" stroke="#000" stroke-width="1.6"/>
<text x="578.1" y="965" font-family='"Liberation Sans", sans-serif' font-weight="bold" font-size="10.4" text-anchor="middle">8Hz</text>
<line x1="611.3" y1="947.8" x2="611.3" y2="953.3" stroke="#000" stroke-width="1.6"/>
<text x="611.3" y="965" font-family='"Liberation Sans", sans-serif' font-weight="bold" font-size="10.4" text-anchor="middle">16Hz</text>
<line x1="644.6" y1="947.8" x2="644.6" y2="953.3" stroke="#000" stroke-width="1.6"/>
<text x="644.6" y="965" font-family='"Liberation Sans", sans-serif' font-weight="bold" font-size="10.4" text-anchor="middle">32Hz</text>
<line x1="677.8" y1="947.8" x2="677.8" y2="953.3" stroke="#000" stroke-width="1.6"/>
<text x="677.8" y="965" font-family='"Liberation Sans", sans-serif' font-weight="bold" font-size="10.4" text-anchor="middle">64Hz</text>
<text transform="translate(461,882) rotate(-90)" font-family='"Liberation Sans", sans-serif' font-weight="bold" font-size="11.1" text-anchor="middle">EFS-induced contraction (g)</text>
<path d="M511.7,927.45 V930.61 M508.2,927.45 h7 M508.2,930.61 h7" stroke="#A80A0A" stroke-width="1.1" fill="none"/>
<path d="M545.3,925.87 V929.66 M541.8,925.87 h7 M541.8,929.66 h7" stroke="#A80A0A" stroke-width="1.1" fill="none"/>
<path d="M578.1,921.76 V928.72 M574.6,921.76 h7 M574.6,928.72 h7" stroke="#A80A0A" stroke-width="1.1" fill="none"/>
<path d="M611.3,919.54 V925.55 M607.8,919.54 h7 M607.8,925.55 h7" stroke="#A80A0A" stroke-width="1.1" fill="none"/>
<path d="M644.6,915.75 V924.29 M641.1,915.75 h7 M641.1,924.29 h7" stroke="#A80A0A" stroke-width="1.1" fill="none"/>
<path d="M677.8,915.75 V919.54 M674.3,915.75 h7 M674.3,919.54 h7" stroke="#A80A0A" stroke-width="1.1" fill="none"/>
<path d="M511.7,929.03 L545.3,927.77 L578.1,925.24 L611.3,922.71 L644.6,919.86 L677.8,917.65" fill="none" stroke="#A80A0A" stroke-width="1.9" stroke-linejoin="round"/>
<rect x="508.5" y="925.83" width="6.4" height="6.4" fill="#A80A0A"/>
<rect x="542.1" y="924.57" width="6.4" height="6.4" fill="#A80A0A"/>
<rect x="574.9" y="922.04" width="6.4" height="6.4" fill="#A80A0A"/>
<rect x="608.1" y="919.51" width="6.4" height="6.4" fill="#A80A0A"/>
<rect x="641.4" y="916.66" width="6.4" height="6.4" fill="#A80A0A"/>
<rect x="674.6" y="914.45" width="6.4" height="6.4" fill="#A80A0A"/>
<path d="M511.7,909.11 V925.55 M508.2,909.11 h7 M508.2,925.55 h7" stroke="#1414D8" stroke-width="1.1" fill="none"/>
<path d="M545.3,900.57 V908.48 M541.8,900.57 h7 M541.8,908.48 h7" stroke="#1414D8" stroke-width="1.1" fill="none"/>
<path d="M578.1,891.71 V897.41 M574.6,891.71 h7 M574.6,897.41 h7" stroke="#1414D8" stroke-width="1.1" fill="none"/>
<path d="M611.3,875.9 V897.41 M607.8,875.9 h7 M607.8,897.41 h7" stroke="#1414D8" stroke-width="1.1" fill="none"/>
<path d="M644.6,862.62 V897.41 M641.1,862.62 h7 M641.1,897.41 h7" stroke="#1414D8" stroke-width="1.1" fill="none"/>
<path d="M677.8,866.41 V882.86 M674.3,866.41 h7 M674.3,882.86 h7" stroke="#1414D8" stroke-width="1.1" fill="none"/>
<path d="M511.7,917.65 L545.3,904.68 L578.1,894.88 L611.3,886.34 L644.6,880.01 L677.8,874.64" fill="none" stroke="#1414D8" stroke-width="1.9" stroke-linejoin="round"/>
<path d="M511.7,913.95 L515.2,920.55 L508.2,920.55 Z" fill="#1414D8"/>
<path d="M545.3,900.98 L548.8,907.58 L541.8,907.58 Z" fill="#1414D8"/>
<path d="M578.1,891.18 L581.6,897.78 L574.6,897.78 Z" fill="#1414D8"/>
<path d="M611.3,882.64 L614.8,889.24 L607.8,889.24 Z" fill="#1414D8"/>
<path d="M644.6,876.31 L648.1,882.91 L641.1,882.91 Z" fill="#1414D8"/>
<path d="M677.8,870.94 L681.3,877.54 L674.3,877.54 Z" fill="#1414D8"/>
<path d="M511.7,888.55 V902.47 M508.2,888.55 h7 M508.2,902.47 h7" stroke="#0A8A1E" stroke-width="1.1" fill="none"/>
<path d="M545.3,886.34 V891.71 M541.8,886.34 h7 M541.8,891.71 h7" stroke="#0A8A1E" stroke-width="1.1" fill="none"/>
<path d="M578.1,874.64 V880.96 M574.6,874.64 h7 M574.6,880.96 h7" stroke="#0A8A1E" stroke-width="1.1" fill="none"/>
<path d="M611.3,869.58 V877.48 M607.8,869.58 h7 M607.8,877.48 h7" stroke="#0A8A1E" stroke-width="1.1" fill="none"/>
<path d="M644.6,859.46 V867.05 M641.1,859.46 h7 M641.1,867.05 h7" stroke="#0A8A1E" stroke-width="1.1" fill="none"/>
<path d="M677.8,852.18 V858.51 M674.3,852.18 h7 M674.3,858.51 h7" stroke="#0A8A1E" stroke-width="1.1" fill="none"/>
<path d="M511.7,895.51 L545.3,888.87 L578.1,877.8 L611.3,872.74 L644.6,863.25 L677.8,855.34" fill="none" stroke="#0A8A1E" stroke-width="1.9" stroke-linejoin="round"/>
<path d="M511.7,899.21 L515.2,892.61 L508.2,892.61 Z" fill="#0A8A1E"/>
<path d="M545.3,892.57 L548.8,885.97 L541.8,885.97 Z" fill="#0A8A1E"/>
<path d="M578.1,881.5 L581.6,874.9 L574.6,874.9 Z" fill="#0A8A1E"/>
<path d="M611.3,876.44 L614.8,869.84 L607.8,869.84 Z" fill="#0A8A1E"/>
<path d="M644.6,866.95 L648.1,860.35 L641.1,860.35 Z" fill="#0A8A1E"/>
<path d="M677.8,859.04 L681.3,852.44 L674.3,852.44 Z" fill="#0A8A1E"/>
<path d="M511.7,887.92 V903.1 M508.2,887.92 h7 M508.2,903.1 h7" stroke="#FF5FD0" stroke-width="1.1" fill="none"/>
<path d="M545.3,886.02 V892.35 M541.8,886.02 h7 M541.8,892.35 h7" stroke="#FF5FD0" stroke-width="1.1" fill="none"/>
<path d="M578.1,874.64 V883.81 M574.6,874.64 h7 M574.6,883.81 h7" stroke="#FF5FD0" stroke-width="1.1" fill="none"/>
<path d="M611.3,868.94 V875.9 M607.8,868.94 h7 M607.8,875.9 h7" stroke="#FF5FD0" stroke-width="1.1" fill="none"/>
<path d="M644.6,849.97 V859.46 M641.1,849.97 h7 M641.1,859.46 h7" stroke="#FF5FD0" stroke-width="1.1" fill="none"/>
<path d="M677.8,837.32 V860.09 M674.3,837.32 h7 M674.3,860.09 h7" stroke="#FF5FD0" stroke-width="1.1" fill="none"/>
<path d="M511.7,895.51 L545.3,889.18 L578.1,879.06 L611.3,872.42 L644.6,854.71 L677.8,849.97" fill="none" stroke="#FF5FD0" stroke-width="1.9" stroke-linejoin="round"/>
<circle cx="511.7" cy="895.51" r="3.5" fill="#FF5FD0"/>
<circle cx="545.3" cy="889.18" r="3.5" fill="#FF5FD0"/>
<circle cx="578.1" cy="879.06" r="3.5" fill="#FF5FD0"/>
<circle cx="611.3" cy="872.42" r="3.5" fill="#FF5FD0"/>
<circle cx="644.6" cy="854.71" r="3.5" fill="#FF5FD0"/>
<circle cx="677.8" cy="849.97" r="3.5" fill="#FF5FD0"/>
<line x1="504.2" y1="813.4" x2="521" y2="813.4" stroke="#FF5FD0" stroke-width="1.6"/>
<circle cx="512.6" cy="813.4" r="2.9" fill="#FF5FD0"/>
<text x="528.5" y="816.8" font-family='"Liberation Sans", sans-serif' font-size="9.9" stroke="#000" stroke-width="0.25">Con</text>
<line x1="504.2" y1="826" x2="521" y2="826" stroke="#0A8A1E" stroke-width="1.6"/>
<path d="M512.6,829.1 L515.5,823.7 L509.7,823.7 Z" fill="#0A8A1E"/>
<text x="528.5" y="829.4" font-family='"Liberation Sans", sans-serif' font-size="9.9" stroke="#000" stroke-width="0.25">Fuc</text>
<line x1="504.2" y1="838.8" x2="521" y2="838.8" stroke="#A80A0A" stroke-width="1.6"/>
<rect x="510" y="836.2" width="5.2" height="5.2" fill="#A80A0A"/>
<text x="528.5" y="842.2" font-family='"Liberation Sans", sans-serif' font-size="9.9" stroke="#000" stroke-width="0.25">DM</text>
<line x1="504.2" y1="851.5" x2="521" y2="851.5" stroke="#1414D8" stroke-width="1.6"/>
<path d="M512.6,848.4 L515.5,853.8 L509.7,853.8 Z" fill="#1414D8"/>
<text x="528.5" y="854.9" font-family='"Liberation Sans", sans-serif' font-size="9.9" stroke="#000" stroke-width="0.25">DM+Fuc</text>
<text x="512.7" y="889.9" font-family='"Liberation Sans", sans-serif' font-weight="bold" font-size="11" text-anchor="middle">****</text>
<text x="545" y="886" font-family='"Liberation Sans", sans-serif' font-weight="bold" font-size="11" text-anchor="middle">****</text>
<text x="545" y="903.5" font-family='"Liberation Sans", sans-serif' font-weight="bold" font-size="11" text-anchor="middle">***</text>
<text x="578.5" y="875.4" font-family='"Liberation Sans", sans-serif' font-weight="bold" font-size="11" text-anchor="middle">****</text>
<text x="578.5" y="894.5" font-family='"Liberation Sans", sans-serif' font-weight="bold" font-size="11" text-anchor="middle">****</text>
<text x="611.4" y="870.9" font-family='"Liberation Sans", sans-serif' font-weight="bold" font-size="11" text-anchor="middle">****</text>
<text x="611.4" y="887.5" font-family='"Liberation Sans", sans-serif' font-weight="bold" font-size="11" text-anchor="middle">****</text>
<text x="644" y="853.4" font-family='"Liberation Sans", sans-serif' font-weight="bold" font-size="11" text-anchor="middle">****</text>
<text x="644.6" y="880" font-family='"Liberation Sans", sans-serif' font-weight="bold" font-size="11" text-anchor="middle">****</text>
<text x="676.6" y="839.2" font-family='"Liberation Sans", sans-serif' font-weight="bold" font-size="11" text-anchor="middle">****</text>
<text x="677.9" y="870.3" font-family='"Liberation Sans", sans-serif' font-weight="bold" font-size="11" text-anchor="middle">****</text>
</svg>
</body></html>
